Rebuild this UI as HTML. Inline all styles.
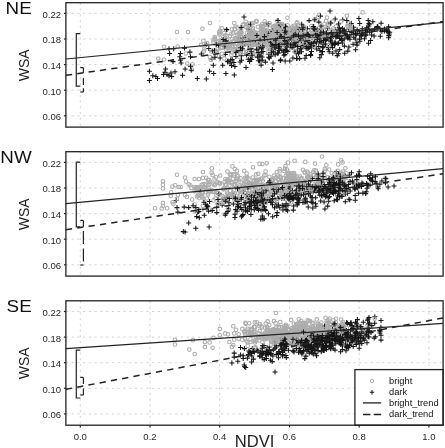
<!DOCTYPE html>
<html><head><meta charset="utf-8"><title>WSA vs NDVI</title>
<style>html,body{margin:0;padding:0;background:#fff;overflow:hidden}svg{display:block}svg text{font-family:"Liberation Sans",Arial,sans-serif}</style>
</head><body>
<svg width="445" height="448" viewBox="0 0 445 448">
<rect width="445" height="448" fill="#fff"/>
<path d="M65.9 13.4H443.1M65.9 39.0H443.1M65.9 64.6H443.1M65.9 90.2H443.1M65.9 115.8H443.1M80.3 2.7V127.1M150.0 2.7V127.1M219.7 2.7V127.1M289.5 2.7V127.1M359.2 2.7V127.1M428.9 2.7V127.1" stroke="#cfcfcf" stroke-width="0.95" stroke-dasharray="2.1 3.65" fill="none"/>
<g fill="none" stroke="#acacac" stroke-width="1.05"><circle cx="249.1" cy="48.7" r="1.8"/><circle cx="253.5" cy="43.1" r="1.8"/><circle cx="280.2" cy="42.4" r="1.8"/><circle cx="209.8" cy="57.0" r="1.8"/><circle cx="309.6" cy="35.4" r="1.8"/><circle cx="251.0" cy="38.0" r="1.8"/><circle cx="347.8" cy="26.6" r="1.8"/><circle cx="270.8" cy="37.2" r="1.8"/><circle cx="290.3" cy="36.0" r="1.8"/><circle cx="311.3" cy="30.0" r="1.8"/><circle cx="322.3" cy="44.6" r="1.8"/><circle cx="311.3" cy="26.1" r="1.8"/><circle cx="232.0" cy="29.3" r="1.8"/><circle cx="247.0" cy="36.5" r="1.8"/><circle cx="299.1" cy="47.1" r="1.8"/><circle cx="308.1" cy="35.8" r="1.8"/><circle cx="253.2" cy="36.3" r="1.8"/><circle cx="322.6" cy="27.8" r="1.8"/><circle cx="284.6" cy="31.1" r="1.8"/><circle cx="291.6" cy="27.7" r="1.8"/><circle cx="245.1" cy="43.1" r="1.8"/><circle cx="252.7" cy="50.5" r="1.8"/><circle cx="319.9" cy="31.3" r="1.8"/><circle cx="231.4" cy="33.7" r="1.8"/><circle cx="362.6" cy="12.3" r="1.8"/><circle cx="277.7" cy="38.9" r="1.8"/><circle cx="211.3" cy="51.5" r="1.8"/><circle cx="256.4" cy="36.3" r="1.8"/><circle cx="247.6" cy="40.9" r="1.8"/><circle cx="256.5" cy="37.8" r="1.8"/><circle cx="261.4" cy="26.9" r="1.8"/><circle cx="300.6" cy="33.9" r="1.8"/><circle cx="270.5" cy="40.2" r="1.8"/><circle cx="240.6" cy="45.4" r="1.8"/><circle cx="274.7" cy="40.0" r="1.8"/><circle cx="262.9" cy="29.7" r="1.8"/><circle cx="265.3" cy="24.3" r="1.8"/><circle cx="261.6" cy="54.8" r="1.8"/><circle cx="240.7" cy="53.6" r="1.8"/><circle cx="251.1" cy="54.9" r="1.8"/><circle cx="249.5" cy="41.1" r="1.8"/><circle cx="289.7" cy="29.3" r="1.8"/><circle cx="259.7" cy="35.7" r="1.8"/><circle cx="263.8" cy="31.7" r="1.8"/><circle cx="239.4" cy="56.9" r="1.8"/><circle cx="258.7" cy="32.9" r="1.8"/><circle cx="261.2" cy="44.5" r="1.8"/><circle cx="235.7" cy="50.1" r="1.8"/><circle cx="304.8" cy="37.5" r="1.8"/><circle cx="272.9" cy="27.1" r="1.8"/><circle cx="243.7" cy="51.7" r="1.8"/><circle cx="283.0" cy="36.3" r="1.8"/><circle cx="262.1" cy="40.3" r="1.8"/><circle cx="203.9" cy="44.2" r="1.8"/><circle cx="257.4" cy="35.9" r="1.8"/><circle cx="250.1" cy="41.4" r="1.8"/><circle cx="275.4" cy="25.6" r="1.8"/><circle cx="287.6" cy="25.2" r="1.8"/><circle cx="278.9" cy="48.6" r="1.8"/><circle cx="314.9" cy="35.3" r="1.8"/><circle cx="295.3" cy="36.8" r="1.8"/><circle cx="203.4" cy="40.7" r="1.8"/><circle cx="289.8" cy="29.4" r="1.8"/><circle cx="250.1" cy="49.0" r="1.8"/><circle cx="251.3" cy="44.7" r="1.8"/><circle cx="304.7" cy="36.6" r="1.8"/><circle cx="238.7" cy="33.6" r="1.8"/><circle cx="251.7" cy="34.4" r="1.8"/><circle cx="283.2" cy="30.3" r="1.8"/><circle cx="324.5" cy="23.7" r="1.8"/><circle cx="279.2" cy="28.3" r="1.8"/><circle cx="262.2" cy="30.7" r="1.8"/><circle cx="251.1" cy="36.4" r="1.8"/><circle cx="269.7" cy="28.3" r="1.8"/><circle cx="245.3" cy="37.1" r="1.8"/><circle cx="232.6" cy="46.9" r="1.8"/><circle cx="297.9" cy="41.4" r="1.8"/><circle cx="308.7" cy="36.3" r="1.8"/><circle cx="284.8" cy="41.1" r="1.8"/><circle cx="246.9" cy="24.2" r="1.8"/><circle cx="251.4" cy="39.6" r="1.8"/><circle cx="294.1" cy="42.3" r="1.8"/><circle cx="309.8" cy="47.2" r="1.8"/><circle cx="221.8" cy="28.3" r="1.8"/><circle cx="234.8" cy="49.0" r="1.8"/><circle cx="306.3" cy="39.0" r="1.8"/><circle cx="297.8" cy="37.0" r="1.8"/><circle cx="177.0" cy="32.0" r="1.8"/><circle cx="185.8" cy="53.5" r="1.8"/></g>
<path d="M332.7 19.0h5M335.2 16.5v5M266.9 57.9h5M269.4 55.4v5M246.0 39.7h5M248.5 37.2v5M248.2 40.5h5M250.7 38.0v5M238.1 42.8h5M240.6 40.3v5M320.3 47.8h5M322.8 45.3v5M276.4 42.7h5M278.9 40.2v5M316.0 37.6h5M318.5 35.1v5M326.7 51.8h5M329.2 49.3v5M382.0 29.0h5M384.5 26.5v5M277.0 45.0h5M279.5 42.5v5M246.9 33.3h5M249.4 30.8v5M311.9 41.7h5M314.4 39.2v5M303.9 33.3h5M306.4 30.8v5M259.1 51.9h5M261.6 49.4v5M346.2 29.0h5M348.7 26.5v5M336.5 32.5h5M339.0 30.0v5M273.2 48.0h5M275.7 45.5v5M379.4 31.5h5M381.9 29.0v5M283.2 27.4h5M285.7 24.9v5M357.4 41.2h5M359.9 38.7v5M303.5 38.1h5M306.0 35.6v5M232.4 66.5h5M234.9 64.0v5M310.8 26.7h5M313.3 24.2v5M220.2 65.2h5M222.7 62.7v5M274.9 53.2h5M277.4 50.7v5M330.0 33.0h5M332.5 30.5v5M281.6 43.2h5M284.1 40.7v5M247.7 34.5h5M250.2 32.0v5M358.9 36.0h5M361.4 33.5v5M293.8 27.8h5M296.3 25.3v5M325.4 36.3h5M327.9 33.8v5M228.2 59.9h5M230.7 57.4v5M310.0 37.6h5M312.5 35.1v5M333.4 35.0h5M335.9 32.5v5M345.2 37.8h5M347.7 35.3v5M357.1 39.1h5M359.6 36.6v5M308.2 55.5h5M310.7 53.0v5M270.5 63.0h5M273.0 60.5v5M242.4 37.5h5M244.9 35.0v5M291.2 46.3h5M293.7 43.8v5M281.4 55.2h5M283.9 52.7v5M353.6 34.7h5M356.1 32.2v5M210.8 65.2h5M213.3 62.7v5M338.0 38.3h5M340.5 35.8v5M274.4 45.2h5M276.9 42.7v5M330.2 36.5h5M332.7 34.0v5M289.1 45.7h5M291.6 43.2v5M311.2 43.1h5M313.7 40.6v5M277.9 36.8h5M280.4 34.3v5M203.9 44.5h5M206.4 42.0v5M307.0 42.9h5M309.5 40.4v5M297.5 29.8h5M300.0 27.3v5M363.6 34.9h5M366.1 32.4v5M386.1 26.8h5M388.6 24.3v5M332.8 29.8h5M335.3 27.3v5M310.8 46.7h5M313.3 44.2v5M287.3 61.0h5M289.8 58.5v5M365.4 28.2h5M367.9 25.7v5M336.9 32.6h5M339.4 30.1v5M329.1 37.8h5M331.6 35.3v5M348.8 23.4h5M351.3 20.9v5M245.8 59.3h5M248.3 56.8v5M276.9 39.1h5M279.4 36.6v5M367.2 32.1h5M369.7 29.6v5M292.9 29.5h5M295.4 27.0v5M357.2 23.4h5M359.7 20.9v5M340.2 19.8h5M342.7 17.3v5M293.1 32.1h5M295.6 29.6v5M297.9 35.9h5M300.4 33.4v5M274.1 30.2h5M276.6 27.7v5M352.8 38.9h5M355.3 36.4v5M146.9 71.3h5M149.4 68.8v5M162.4 72.3h5M164.9 69.8v5M172.5 71.7h5M175.0 69.2v5M167.1 53.5h5M169.6 51.0v5M177.9 60.2h5M180.4 57.7v5" stroke="#151515" stroke-width="1.05" fill="none"/>
<g fill="none" stroke="#acacac" stroke-width="1.05"><circle cx="298.7" cy="33.7" r="1.8"/><circle cx="302.2" cy="33.2" r="1.8"/><circle cx="290.9" cy="38.7" r="1.8"/><circle cx="238.9" cy="36.8" r="1.8"/><circle cx="301.9" cy="37.0" r="1.8"/><circle cx="221.9" cy="41.8" r="1.8"/><circle cx="335.8" cy="26.5" r="1.8"/><circle cx="289.1" cy="36.6" r="1.8"/><circle cx="319.6" cy="39.1" r="1.8"/><circle cx="297.7" cy="30.5" r="1.8"/><circle cx="286.4" cy="37.5" r="1.8"/><circle cx="264.8" cy="30.9" r="1.8"/><circle cx="231.3" cy="54.8" r="1.8"/><circle cx="245.9" cy="37.7" r="1.8"/><circle cx="273.6" cy="27.6" r="1.8"/><circle cx="273.6" cy="26.4" r="1.8"/><circle cx="213.4" cy="42.3" r="1.8"/><circle cx="264.7" cy="21.3" r="1.8"/><circle cx="255.2" cy="32.3" r="1.8"/><circle cx="296.8" cy="40.1" r="1.8"/><circle cx="319.0" cy="14.7" r="1.8"/><circle cx="310.1" cy="32.9" r="1.8"/><circle cx="276.7" cy="29.8" r="1.8"/><circle cx="256.5" cy="35.4" r="1.8"/><circle cx="252.9" cy="38.9" r="1.8"/><circle cx="241.4" cy="41.2" r="1.8"/><circle cx="225.3" cy="35.2" r="1.8"/><circle cx="263.2" cy="31.9" r="1.8"/><circle cx="272.7" cy="33.1" r="1.8"/><circle cx="219.3" cy="34.6" r="1.8"/><circle cx="272.2" cy="33.7" r="1.8"/><circle cx="220.6" cy="48.1" r="1.8"/><circle cx="324.2" cy="40.5" r="1.8"/><circle cx="254.0" cy="44.8" r="1.8"/><circle cx="316.3" cy="31.3" r="1.8"/><circle cx="251.8" cy="23.5" r="1.8"/><circle cx="232.4" cy="46.9" r="1.8"/><circle cx="234.6" cy="28.9" r="1.8"/><circle cx="285.3" cy="42.3" r="1.8"/><circle cx="257.8" cy="26.7" r="1.8"/><circle cx="270.3" cy="41.1" r="1.8"/><circle cx="289.5" cy="32.0" r="1.8"/><circle cx="260.9" cy="46.7" r="1.8"/><circle cx="243.6" cy="24.3" r="1.8"/><circle cx="217.6" cy="42.4" r="1.8"/><circle cx="262.5" cy="38.8" r="1.8"/><circle cx="239.1" cy="43.8" r="1.8"/><circle cx="287.6" cy="31.7" r="1.8"/><circle cx="258.9" cy="39.6" r="1.8"/><circle cx="248.8" cy="23.5" r="1.8"/><circle cx="248.1" cy="36.4" r="1.8"/><circle cx="240.4" cy="50.8" r="1.8"/><circle cx="268.9" cy="34.0" r="1.8"/><circle cx="260.7" cy="38.0" r="1.8"/><circle cx="287.0" cy="36.5" r="1.8"/><circle cx="295.3" cy="30.5" r="1.8"/><circle cx="214.9" cy="39.0" r="1.8"/><circle cx="280.1" cy="46.1" r="1.8"/><circle cx="332.9" cy="21.5" r="1.8"/><circle cx="366.1" cy="30.0" r="1.8"/><circle cx="204.2" cy="48.7" r="1.8"/><circle cx="229.3" cy="46.4" r="1.8"/><circle cx="261.0" cy="25.8" r="1.8"/><circle cx="227.4" cy="44.3" r="1.8"/><circle cx="277.4" cy="20.9" r="1.8"/><circle cx="261.3" cy="43.1" r="1.8"/><circle cx="275.6" cy="44.8" r="1.8"/><circle cx="304.9" cy="37.1" r="1.8"/><circle cx="252.6" cy="29.4" r="1.8"/><circle cx="297.9" cy="28.4" r="1.8"/><circle cx="303.1" cy="26.2" r="1.8"/><circle cx="247.9" cy="28.8" r="1.8"/><circle cx="330.9" cy="35.9" r="1.8"/><circle cx="305.7" cy="42.7" r="1.8"/><circle cx="272.4" cy="39.6" r="1.8"/><circle cx="258.0" cy="48.7" r="1.8"/><circle cx="287.6" cy="35.8" r="1.8"/><circle cx="273.0" cy="53.7" r="1.8"/><circle cx="268.7" cy="38.7" r="1.8"/><circle cx="252.8" cy="28.1" r="1.8"/><circle cx="340.9" cy="21.4" r="1.8"/><circle cx="285.5" cy="33.8" r="1.8"/><circle cx="244.5" cy="39.8" r="1.8"/><circle cx="215.7" cy="55.8" r="1.8"/><circle cx="241.4" cy="33.7" r="1.8"/><circle cx="222.7" cy="44.1" r="1.8"/><circle cx="287.5" cy="33.9" r="1.8"/><circle cx="188.0" cy="32.0" r="1.8"/><circle cx="187.2" cy="63.6" r="1.8"/></g>
<path d="M298.2 48.3h5M300.7 45.8v5M256.2 44.4h5M258.7 41.9v5M288.4 30.9h5M290.9 28.4v5M305.7 34.6h5M308.2 32.1v5M293.8 53.4h5M296.3 50.9v5M313.3 30.9h5M315.8 28.4v5M264.2 41.8h5M266.7 39.3v5M312.9 33.7h5M315.4 31.2v5M210.2 50.9h5M212.7 48.4v5M336.0 24.0h5M338.5 21.5v5M303.7 48.3h5M306.2 45.8v5M302.3 43.2h5M304.8 40.7v5M294.2 58.5h5M296.7 56.0v5M344.5 34.7h5M347.0 32.2v5M280.2 42.2h5M282.7 39.7v5M276.1 47.3h5M278.6 44.8v5M276.5 48.1h5M279.0 45.6v5M366.3 26.0h5M368.8 23.5v5M356.4 18.5h5M358.9 16.0v5M302.5 58.2h5M305.0 55.7v5M325.6 35.2h5M328.1 32.7v5M270.2 30.9h5M272.7 28.4v5M263.2 41.5h5M265.7 39.0v5M354.6 29.8h5M357.1 27.3v5M314.2 48.9h5M316.7 46.4v5M308.4 44.8h5M310.9 42.3v5M361.9 38.8h5M364.4 36.3v5M330.1 47.6h5M332.6 45.1v5M325.3 34.8h5M327.8 32.3v5M308.3 36.8h5M310.8 34.3v5M284.1 36.3h5M286.6 33.8v5M243.1 42.0h5M245.6 39.5v5M289.0 40.1h5M291.5 37.6v5M384.9 31.1h5M387.4 28.6v5M297.1 58.6h5M299.6 56.1v5M342.8 33.7h5M345.3 31.2v5M354.7 33.6h5M357.2 31.1v5M339.8 42.9h5M342.3 40.4v5M217.6 57.9h5M220.1 55.4v5M347.3 24.8h5M349.8 22.3v5M276.9 50.5h5M279.4 48.0v5M351.4 29.9h5M353.9 27.4v5M329.7 44.5h5M332.2 42.0v5M309.0 51.4h5M311.5 48.9v5M370.3 21.8h5M372.8 19.3v5M302.2 44.1h5M304.7 41.6v5M321.3 44.1h5M323.8 41.6v5M245.0 53.6h5M247.5 51.1v5M281.0 30.3h5M283.5 27.8v5M278.6 40.9h5M281.1 38.4v5M359.6 34.2h5M362.1 31.7v5M285.4 35.4h5M287.9 32.9v5M258.6 65.1h5M261.1 62.6v5M255.2 49.9h5M257.7 47.4v5M360.4 32.9h5M362.9 30.4v5M267.0 32.0h5M269.5 29.5v5M305.9 47.8h5M308.4 45.3v5M341.8 38.9h5M344.3 36.4v5M209.6 58.9h5M212.1 56.4v5M264.8 36.8h5M267.3 34.3v5M344.9 36.1h5M347.4 33.6v5M265.8 40.0h5M268.3 37.5v5M296.5 39.8h5M299.0 37.3v5M317.9 16.1h5M320.4 13.6v5M227.6 63.0h5M230.1 60.5v5M308.1 43.6h5M310.6 41.1v5M300.6 45.6h5M303.1 43.1v5M326.0 47.4h5M328.5 44.9v5M321.0 40.4h5M323.5 37.9v5M290.2 29.6h5M292.7 27.1v5M363.0 30.7h5M365.5 28.2v5M292.8 33.6h5M295.3 31.1v5M146.9 80.4h5M149.4 77.9v5M163.1 69.0h5M165.6 66.5v5M180.0 75.3h5M182.5 72.8v5M166.5 48.8h5M169.0 46.3v5M178.6 62.9h5M181.1 60.4v5" stroke="#151515" stroke-width="1.05" fill="none"/>
<g fill="none" stroke="#acacac" stroke-width="1.05"><circle cx="312.6" cy="37.0" r="1.8"/><circle cx="279.0" cy="35.7" r="1.8"/><circle cx="253.4" cy="43.0" r="1.8"/><circle cx="244.0" cy="43.1" r="1.8"/><circle cx="262.0" cy="36.0" r="1.8"/><circle cx="225.9" cy="49.6" r="1.8"/><circle cx="325.2" cy="44.8" r="1.8"/><circle cx="243.9" cy="45.0" r="1.8"/><circle cx="277.5" cy="25.3" r="1.8"/><circle cx="291.4" cy="38.5" r="1.8"/><circle cx="282.2" cy="31.1" r="1.8"/><circle cx="283.9" cy="37.6" r="1.8"/><circle cx="305.5" cy="39.8" r="1.8"/><circle cx="222.0" cy="47.7" r="1.8"/><circle cx="261.8" cy="39.6" r="1.8"/><circle cx="294.0" cy="39.2" r="1.8"/><circle cx="271.1" cy="35.3" r="1.8"/><circle cx="333.0" cy="28.5" r="1.8"/><circle cx="253.1" cy="31.4" r="1.8"/><circle cx="328.3" cy="34.3" r="1.8"/><circle cx="295.3" cy="48.3" r="1.8"/><circle cx="280.5" cy="29.4" r="1.8"/><circle cx="293.4" cy="46.1" r="1.8"/><circle cx="327.0" cy="17.5" r="1.8"/><circle cx="262.6" cy="38.1" r="1.8"/><circle cx="280.6" cy="29.7" r="1.8"/><circle cx="257.8" cy="38.4" r="1.8"/><circle cx="310.8" cy="46.5" r="1.8"/><circle cx="257.0" cy="40.5" r="1.8"/><circle cx="266.3" cy="44.3" r="1.8"/><circle cx="246.8" cy="33.2" r="1.8"/><circle cx="236.5" cy="32.2" r="1.8"/><circle cx="271.8" cy="45.4" r="1.8"/><circle cx="263.5" cy="47.5" r="1.8"/><circle cx="288.2" cy="37.2" r="1.8"/><circle cx="228.0" cy="48.2" r="1.8"/><circle cx="321.0" cy="29.0" r="1.8"/><circle cx="333.4" cy="31.0" r="1.8"/><circle cx="253.2" cy="55.6" r="1.8"/><circle cx="223.2" cy="37.3" r="1.8"/><circle cx="267.9" cy="41.6" r="1.8"/><circle cx="288.1" cy="49.0" r="1.8"/><circle cx="296.6" cy="36.1" r="1.8"/><circle cx="288.4" cy="36.2" r="1.8"/><circle cx="236.0" cy="39.1" r="1.8"/><circle cx="306.5" cy="36.7" r="1.8"/><circle cx="262.0" cy="43.8" r="1.8"/><circle cx="268.7" cy="38.2" r="1.8"/><circle cx="277.5" cy="32.6" r="1.8"/><circle cx="229.8" cy="36.0" r="1.8"/><circle cx="263.6" cy="41.8" r="1.8"/><circle cx="275.0" cy="42.6" r="1.8"/><circle cx="262.0" cy="24.3" r="1.8"/><circle cx="296.7" cy="37.1" r="1.8"/><circle cx="287.7" cy="41.2" r="1.8"/><circle cx="279.0" cy="46.7" r="1.8"/><circle cx="250.9" cy="31.8" r="1.8"/><circle cx="295.0" cy="29.6" r="1.8"/><circle cx="253.2" cy="37.0" r="1.8"/><circle cx="255.6" cy="33.3" r="1.8"/><circle cx="268.3" cy="33.3" r="1.8"/><circle cx="256.6" cy="21.7" r="1.8"/><circle cx="300.0" cy="38.5" r="1.8"/><circle cx="220.0" cy="33.5" r="1.8"/><circle cx="213.4" cy="40.2" r="1.8"/><circle cx="203.6" cy="51.4" r="1.8"/><circle cx="234.3" cy="23.1" r="1.8"/><circle cx="218.5" cy="41.0" r="1.8"/><circle cx="321.6" cy="31.9" r="1.8"/><circle cx="240.6" cy="32.0" r="1.8"/><circle cx="266.3" cy="38.2" r="1.8"/><circle cx="352.0" cy="26.6" r="1.8"/><circle cx="239.2" cy="47.2" r="1.8"/><circle cx="256.1" cy="36.7" r="1.8"/><circle cx="240.7" cy="42.7" r="1.8"/><circle cx="263.4" cy="29.5" r="1.8"/><circle cx="280.1" cy="51.6" r="1.8"/><circle cx="247.5" cy="26.4" r="1.8"/><circle cx="263.8" cy="41.6" r="1.8"/><circle cx="249.4" cy="30.2" r="1.8"/><circle cx="328.4" cy="25.6" r="1.8"/><circle cx="235.6" cy="26.5" r="1.8"/><circle cx="215.7" cy="50.7" r="1.8"/><circle cx="204.2" cy="50.7" r="1.8"/><circle cx="277.7" cy="37.7" r="1.8"/><circle cx="281.5" cy="36.3" r="1.8"/><circle cx="287.9" cy="41.0" r="1.8"/><circle cx="164.0" cy="46.7" r="1.8"/><circle cx="192.6" cy="64.3" r="1.8"/></g>
<path d="M207.1 71.3h5M209.6 68.8v5M303.2 41.2h5M305.7 38.7v5M320.4 47.1h5M322.9 44.6v5M314.0 43.0h5M316.5 40.5v5M303.7 55.4h5M306.2 52.9v5M299.2 24.2h5M301.7 21.7v5M256.5 54.9h5M259.0 52.4v5M304.9 28.7h5M307.4 26.2v5M271.0 51.8h5M273.5 49.3v5M294.4 58.6h5M296.9 56.1v5M231.3 62.4h5M233.8 59.9v5M239.0 60.3h5M241.5 57.8v5M325.1 28.3h5M327.6 25.8v5M240.4 45.3h5M242.9 42.8v5M345.5 38.1h5M348.0 35.6v5M272.6 54.7h5M275.1 52.2v5M368.1 40.4h5M370.6 37.9v5M296.8 52.1h5M299.3 49.6v5M366.4 23.5h5M368.9 21.0v5M386.7 33.9h5M389.2 31.4v5M300.0 39.3h5M302.5 36.8v5M248.9 31.8h5M251.4 29.3v5M275.9 44.8h5M278.4 42.3v5M289.4 39.7h5M291.9 37.2v5M269.3 49.6h5M271.8 47.1v5M279.5 50.3h5M282.0 47.8v5M335.5 43.5h5M338.0 41.0v5M328.8 38.2h5M331.3 35.7v5M333.5 50.9h5M336.0 48.4v5M309.0 44.4h5M311.5 41.9v5M375.0 27.1h5M377.5 24.6v5M280.9 52.3h5M283.4 49.8v5M250.7 40.5h5M253.2 38.0v5M203.8 78.9h5M206.3 76.4v5M332.4 44.1h5M334.9 41.6v5M314.5 34.5h5M317.0 32.0v5M229.7 59.4h5M232.2 56.9v5M385.5 31.7h5M388.0 29.2v5M354.3 42.8h5M356.8 40.3v5M320.5 46.8h5M323.0 44.3v5M257.6 40.2h5M260.1 37.7v5M212.5 57.3h5M215.0 54.8v5M286.3 45.3h5M288.8 42.8v5M308.1 54.6h5M310.6 52.1v5M313.5 29.5h5M316.0 27.0v5M236.2 39.0h5M238.7 36.5v5M299.0 51.7h5M301.5 49.2v5M278.3 34.9h5M280.8 32.4v5M247.9 59.0h5M250.4 56.5v5M237.6 61.9h5M240.1 59.4v5M248.2 24.3h5M250.7 21.8v5M353.0 33.4h5M355.5 30.9v5M336.9 27.7h5M339.4 25.2v5M256.6 45.6h5M259.1 43.1v5M295.9 53.7h5M298.4 51.2v5M341.8 33.2h5M344.3 30.7v5M292.4 43.1h5M294.9 40.6v5M351.0 27.3h5M353.5 24.8v5M238.0 47.8h5M240.5 45.3v5M310.6 45.4h5M313.1 42.9v5M223.4 73.4h5M225.9 70.9v5M285.0 41.8h5M287.5 39.3v5M351.3 37.3h5M353.8 34.8v5M276.0 37.6h5M278.5 35.1v5M267.8 49.1h5M270.3 46.6v5M262.9 62.1h5M265.4 59.6v5M238.9 55.7h5M241.4 53.2v5M339.9 28.5h5M342.4 26.0v5M347.4 39.2h5M349.9 36.7v5M261.3 40.6h5M263.8 38.1v5M322.9 44.0h5M325.4 41.5v5M285.3 51.5h5M287.8 49.0v5M150.3 75.7h5M152.8 73.2v5M164.5 74.4h5M167.0 71.9v5M182.6 69.0h5M185.1 66.5v5M171.2 48.8h5M173.7 46.3v5M182.0 48.1h5M184.5 45.6v5" stroke="#151515" stroke-width="1.05" fill="none"/>
<g fill="none" stroke="#acacac" stroke-width="1.05"><circle cx="347.4" cy="25.7" r="1.8"/><circle cx="255.8" cy="51.7" r="1.8"/><circle cx="271.4" cy="39.6" r="1.8"/><circle cx="301.9" cy="41.9" r="1.8"/><circle cx="292.3" cy="30.4" r="1.8"/><circle cx="221.2" cy="40.1" r="1.8"/><circle cx="247.6" cy="42.2" r="1.8"/><circle cx="280.3" cy="23.7" r="1.8"/><circle cx="225.2" cy="45.9" r="1.8"/><circle cx="297.4" cy="28.5" r="1.8"/><circle cx="241.0" cy="29.8" r="1.8"/><circle cx="268.2" cy="44.9" r="1.8"/><circle cx="241.0" cy="32.5" r="1.8"/><circle cx="240.5" cy="53.1" r="1.8"/><circle cx="274.2" cy="37.0" r="1.8"/><circle cx="276.9" cy="33.9" r="1.8"/><circle cx="289.9" cy="34.0" r="1.8"/><circle cx="305.8" cy="38.3" r="1.8"/><circle cx="256.3" cy="20.8" r="1.8"/><circle cx="249.0" cy="35.3" r="1.8"/><circle cx="235.3" cy="38.1" r="1.8"/><circle cx="255.0" cy="38.9" r="1.8"/><circle cx="224.3" cy="33.1" r="1.8"/><circle cx="249.2" cy="46.1" r="1.8"/><circle cx="224.8" cy="47.3" r="1.8"/><circle cx="275.2" cy="32.9" r="1.8"/><circle cx="253.4" cy="37.0" r="1.8"/><circle cx="323.6" cy="35.7" r="1.8"/><circle cx="251.7" cy="49.9" r="1.8"/><circle cx="291.1" cy="31.6" r="1.8"/><circle cx="241.9" cy="44.1" r="1.8"/><circle cx="223.5" cy="42.8" r="1.8"/><circle cx="237.8" cy="39.4" r="1.8"/><circle cx="263.0" cy="31.1" r="1.8"/><circle cx="322.7" cy="34.1" r="1.8"/><circle cx="276.7" cy="30.0" r="1.8"/><circle cx="277.7" cy="31.3" r="1.8"/><circle cx="279.6" cy="25.6" r="1.8"/><circle cx="256.3" cy="55.3" r="1.8"/><circle cx="266.5" cy="24.9" r="1.8"/><circle cx="219.8" cy="44.0" r="1.8"/><circle cx="297.1" cy="34.4" r="1.8"/><circle cx="265.0" cy="29.8" r="1.8"/><circle cx="271.0" cy="31.3" r="1.8"/><circle cx="280.3" cy="28.5" r="1.8"/><circle cx="237.4" cy="34.9" r="1.8"/><circle cx="261.4" cy="27.9" r="1.8"/><circle cx="229.7" cy="43.5" r="1.8"/><circle cx="330.0" cy="23.2" r="1.8"/><circle cx="242.9" cy="25.1" r="1.8"/><circle cx="240.2" cy="41.6" r="1.8"/><circle cx="302.1" cy="29.9" r="1.8"/><circle cx="240.9" cy="32.1" r="1.8"/><circle cx="335.4" cy="34.8" r="1.8"/><circle cx="236.4" cy="43.4" r="1.8"/><circle cx="334.5" cy="33.1" r="1.8"/><circle cx="278.4" cy="26.1" r="1.8"/><circle cx="253.3" cy="23.0" r="1.8"/><circle cx="291.2" cy="44.6" r="1.8"/><circle cx="236.5" cy="39.5" r="1.8"/><circle cx="237.6" cy="27.5" r="1.8"/><circle cx="274.7" cy="38.2" r="1.8"/><circle cx="245.7" cy="21.8" r="1.8"/><circle cx="262.7" cy="26.2" r="1.8"/><circle cx="287.8" cy="43.3" r="1.8"/><circle cx="288.9" cy="48.9" r="1.8"/><circle cx="280.2" cy="28.4" r="1.8"/><circle cx="262.2" cy="42.7" r="1.8"/><circle cx="282.0" cy="38.0" r="1.8"/><circle cx="239.4" cy="41.1" r="1.8"/><circle cx="299.1" cy="32.9" r="1.8"/><circle cx="293.2" cy="33.2" r="1.8"/><circle cx="284.1" cy="35.9" r="1.8"/><circle cx="274.0" cy="42.2" r="1.8"/><circle cx="294.6" cy="40.6" r="1.8"/><circle cx="284.4" cy="45.2" r="1.8"/><circle cx="246.0" cy="27.0" r="1.8"/><circle cx="348.6" cy="23.1" r="1.8"/><circle cx="287.5" cy="46.1" r="1.8"/><circle cx="249.1" cy="38.8" r="1.8"/><circle cx="210.7" cy="59.7" r="1.8"/><circle cx="215.4" cy="51.5" r="1.8"/><circle cx="236.8" cy="42.9" r="1.8"/><circle cx="255.8" cy="44.0" r="1.8"/><circle cx="267.0" cy="32.9" r="1.8"/><circle cx="250.0" cy="41.8" r="1.8"/><circle cx="241.4" cy="39.8" r="1.8"/><circle cx="158.2" cy="58.6" r="1.8"/><circle cx="191.9" cy="69.6" r="1.8"/></g>
<path d="M277.9 60.6h5M280.4 58.1v5M212.0 50.4h5M214.5 47.9v5M282.6 44.9h5M285.1 42.4v5M249.2 59.5h5M251.7 57.0v5M356.9 31.7h5M359.4 29.2v5M283.0 41.2h5M285.5 38.7v5M290.4 57.9h5M292.9 55.4v5M294.9 51.3h5M297.4 48.8v5M315.5 35.7h5M318.0 33.2v5M282.7 46.0h5M285.2 43.5v5M317.3 50.4h5M319.8 47.9v5M281.6 38.2h5M284.1 35.7v5M350.6 44.3h5M353.1 41.8v5M244.0 55.1h5M246.5 52.6v5M327.9 43.3h5M330.4 40.8v5M282.5 49.6h5M285.0 47.1v5M377.8 36.3h5M380.3 33.8v5M272.0 41.5h5M274.5 39.0v5M266.1 57.2h5M268.6 54.7v5M305.3 48.6h5M307.8 46.1v5M246.0 44.7h5M248.5 42.2v5M268.5 56.3h5M271.0 53.8v5M295.3 46.5h5M297.8 44.0v5M375.4 26.9h5M377.9 24.4v5M278.2 59.7h5M280.7 57.2v5M302.5 36.3h5M305.0 33.8v5M312.7 35.7h5M315.2 33.2v5M248.7 51.8h5M251.2 49.3v5M211.2 73.5h5M213.7 71.0v5M263.3 33.2h5M265.8 30.7v5M336.1 42.9h5M338.6 40.4v5M246.4 29.3h5M248.9 26.8v5M304.1 46.6h5M306.6 44.1v5M261.4 36.3h5M263.9 33.8v5M328.8 44.0h5M331.3 41.5v5M332.6 43.3h5M335.1 40.8v5M252.9 40.2h5M255.4 37.7v5M337.2 49.6h5M339.7 47.1v5M292.9 45.2h5M295.4 42.7v5M365.7 20.5h5M368.2 18.0v5M329.9 45.1h5M332.4 42.6v5M321.6 37.9h5M324.1 35.4v5M225.5 61.1h5M228.0 58.6v5M266.2 54.2h5M268.7 51.7v5M354.5 45.1h5M357.0 42.6v5M342.2 53.2h5M344.7 50.7v5M339.5 40.6h5M342.0 38.1v5M278.3 48.5h5M280.8 46.0v5M371.6 36.0h5M374.1 33.5v5M249.5 55.3h5M252.0 52.8v5M366.1 43.3h5M368.6 40.8v5M364.2 27.7h5M366.7 25.2v5M255.0 57.1h5M257.5 54.6v5M272.5 45.0h5M275.0 42.5v5M282.2 30.2h5M284.7 27.7v5M337.9 37.1h5M340.4 34.6v5M315.0 29.2h5M317.5 26.7v5M259.7 60.1h5M262.2 57.6v5M387.2 32.2h5M389.7 29.7v5M222.8 54.5h5M225.3 52.0v5M318.3 32.2h5M320.8 29.7v5M349.3 32.6h5M351.8 30.1v5M216.0 45.5h5M218.5 43.0v5M334.7 55.6h5M337.2 53.1v5M309.5 37.5h5M312.0 35.0v5M282.4 54.6h5M284.9 52.1v5M316.3 46.5h5M318.8 44.0v5M386.1 37.7h5M388.6 35.2v5M222.4 46.2h5M224.9 43.7v5M341.6 29.9h5M344.1 27.4v5M333.4 36.7h5M335.9 34.2v5M328.8 38.2h5M331.3 35.7v5M153.4 76.4h5M155.9 73.9v5M166.5 75.7h5M169.0 73.2v5M188.0 66.3h5M190.5 63.8v5M170.5 61.6h5M173.0 59.1v5M187.4 52.1h5M189.9 49.6v5" stroke="#151515" stroke-width="1.05" fill="none"/>
<g fill="none" stroke="#acacac" stroke-width="1.05"><circle cx="314.6" cy="19.5" r="1.8"/><circle cx="282.5" cy="47.1" r="1.8"/><circle cx="274.8" cy="40.5" r="1.8"/><circle cx="277.2" cy="40.7" r="1.8"/><circle cx="255.3" cy="41.4" r="1.8"/><circle cx="257.5" cy="36.0" r="1.8"/><circle cx="275.7" cy="26.9" r="1.8"/><circle cx="273.9" cy="46.5" r="1.8"/><circle cx="224.2" cy="58.4" r="1.8"/><circle cx="303.9" cy="27.0" r="1.8"/><circle cx="242.3" cy="42.9" r="1.8"/><circle cx="347.7" cy="30.1" r="1.8"/><circle cx="333.8" cy="39.4" r="1.8"/><circle cx="281.0" cy="40.2" r="1.8"/><circle cx="284.6" cy="44.3" r="1.8"/><circle cx="273.5" cy="33.6" r="1.8"/><circle cx="316.7" cy="29.2" r="1.8"/><circle cx="220.2" cy="30.6" r="1.8"/><circle cx="264.2" cy="44.2" r="1.8"/><circle cx="255.7" cy="35.6" r="1.8"/><circle cx="258.6" cy="47.1" r="1.8"/><circle cx="273.9" cy="45.0" r="1.8"/><circle cx="226.3" cy="30.0" r="1.8"/><circle cx="231.8" cy="39.2" r="1.8"/><circle cx="258.4" cy="48.9" r="1.8"/><circle cx="289.8" cy="35.5" r="1.8"/><circle cx="296.8" cy="23.1" r="1.8"/><circle cx="230.0" cy="48.3" r="1.8"/><circle cx="300.9" cy="35.3" r="1.8"/><circle cx="305.0" cy="34.4" r="1.8"/><circle cx="217.1" cy="51.2" r="1.8"/><circle cx="292.0" cy="29.0" r="1.8"/><circle cx="251.5" cy="31.6" r="1.8"/><circle cx="286.9" cy="38.5" r="1.8"/><circle cx="255.6" cy="34.2" r="1.8"/><circle cx="327.3" cy="29.4" r="1.8"/><circle cx="231.3" cy="42.4" r="1.8"/><circle cx="266.5" cy="30.4" r="1.8"/><circle cx="246.1" cy="51.9" r="1.8"/><circle cx="246.8" cy="40.7" r="1.8"/><circle cx="326.1" cy="21.0" r="1.8"/><circle cx="249.5" cy="30.4" r="1.8"/><circle cx="332.1" cy="33.6" r="1.8"/><circle cx="274.7" cy="41.3" r="1.8"/><circle cx="248.0" cy="43.6" r="1.8"/><circle cx="267.7" cy="44.5" r="1.8"/><circle cx="207.2" cy="43.1" r="1.8"/><circle cx="297.2" cy="22.2" r="1.8"/><circle cx="251.2" cy="36.3" r="1.8"/><circle cx="314.3" cy="29.3" r="1.8"/><circle cx="228.0" cy="45.3" r="1.8"/><circle cx="327.4" cy="25.2" r="1.8"/><circle cx="263.5" cy="29.7" r="1.8"/><circle cx="205.9" cy="44.5" r="1.8"/><circle cx="269.9" cy="43.5" r="1.8"/><circle cx="263.2" cy="36.7" r="1.8"/><circle cx="264.6" cy="39.9" r="1.8"/><circle cx="342.6" cy="31.0" r="1.8"/><circle cx="265.1" cy="23.7" r="1.8"/><circle cx="278.9" cy="40.5" r="1.8"/><circle cx="273.9" cy="43.2" r="1.8"/><circle cx="264.1" cy="31.6" r="1.8"/><circle cx="240.0" cy="33.8" r="1.8"/><circle cx="300.1" cy="43.0" r="1.8"/><circle cx="277.4" cy="25.8" r="1.8"/><circle cx="274.9" cy="35.5" r="1.8"/><circle cx="253.4" cy="43.8" r="1.8"/><circle cx="311.8" cy="31.3" r="1.8"/><circle cx="286.8" cy="29.4" r="1.8"/><circle cx="256.4" cy="44.9" r="1.8"/><circle cx="233.2" cy="32.9" r="1.8"/><circle cx="322.9" cy="35.3" r="1.8"/><circle cx="311.3" cy="40.0" r="1.8"/><circle cx="275.7" cy="27.7" r="1.8"/><circle cx="275.5" cy="28.7" r="1.8"/><circle cx="202.4" cy="28.7" r="1.8"/><circle cx="272.1" cy="41.8" r="1.8"/><circle cx="276.8" cy="36.8" r="1.8"/><circle cx="312.0" cy="32.8" r="1.8"/><circle cx="232.1" cy="45.6" r="1.8"/><circle cx="287.3" cy="31.4" r="1.8"/><circle cx="226.9" cy="39.7" r="1.8"/><circle cx="334.4" cy="32.3" r="1.8"/><circle cx="308.6" cy="44.1" r="1.8"/><circle cx="294.2" cy="28.1" r="1.8"/><circle cx="323.8" cy="29.8" r="1.8"/><circle cx="210.0" cy="23.0" r="1.8"/><circle cx="164.0" cy="59.5" r="1.8"/></g>
<path d="M271.9 40.8h5M274.4 38.3v5M323.1 40.6h5M325.6 38.1v5M277.9 25.1h5M280.4 22.6v5M260.1 45.8h5M262.6 43.3v5M335.9 30.4h5M338.4 27.9v5M256.1 60.7h5M258.6 58.2v5M296.7 29.2h5M299.2 26.7v5M307.4 42.5h5M309.9 40.0v5M333.8 36.2h5M336.3 33.7v5M223.7 40.8h5M226.2 38.3v5M317.4 35.7h5M319.9 33.2v5M338.2 35.0h5M340.7 32.5v5M283.0 31.3h5M285.5 28.8v5M303.0 41.7h5M305.5 39.2v5M270.3 44.2h5M272.8 41.7v5M284.5 43.3h5M287.0 40.8v5M386.3 35.6h5M388.8 33.1v5M220.7 39.4h5M223.2 36.9v5M288.1 44.7h5M290.6 42.2v5M223.3 41.2h5M225.8 38.7v5M283.9 50.5h5M286.4 48.0v5M282.7 60.9h5M285.2 58.4v5M240.1 48.7h5M242.6 46.2v5M292.4 51.8h5M294.9 49.3v5M231.8 74.9h5M234.3 72.4v5M335.9 30.6h5M338.4 28.1v5M260.4 51.5h5M262.9 49.0v5M344.3 20.5h5M346.8 18.0v5M372.1 29.1h5M374.6 26.6v5M247.1 61.4h5M249.6 58.9v5M306.6 20.6h5M309.1 18.1v5M378.6 23.3h5M381.1 20.8v5M306.5 36.2h5M309.0 33.7v5M302.7 44.8h5M305.2 42.3v5M268.1 42.1h5M270.6 39.6v5M240.1 38.3h5M242.6 35.8v5M257.6 55.9h5M260.1 53.4v5M255.7 52.5h5M258.2 50.0v5M257.2 60.9h5M259.7 58.4v5M283.0 26.3h5M285.5 23.8v5M328.1 41.3h5M330.6 38.8v5M307.8 46.4h5M310.3 43.9v5M233.3 52.6h5M235.8 50.1v5M298.9 40.7h5M301.4 38.2v5M233.3 51.7h5M235.8 49.2v5M325.8 49.2h5M328.3 46.7v5M324.0 32.9h5M326.5 30.4v5M254.2 49.2h5M256.7 46.7v5M265.8 33.4h5M268.3 30.9v5M335.9 53.7h5M338.4 51.2v5M318.5 42.1h5M321.0 39.6v5M286.2 38.8h5M288.7 36.3v5M337.9 31.1h5M340.4 28.6v5M206.3 48.5h5M208.8 46.0v5M340.2 31.1h5M342.7 28.6v5M369.2 30.7h5M371.7 28.2v5M213.7 44.6h5M216.2 42.1v5M259.0 48.8h5M261.5 46.3v5M341.7 30.1h5M344.2 27.6v5M265.8 23.9h5M268.3 21.4v5M269.5 45.3h5M272.0 42.8v5M309.1 46.3h5M311.6 43.8v5M276.4 48.2h5M278.9 45.7v5M364.8 31.2h5M367.3 28.7v5M318.5 26.0h5M321.0 23.5v5M304.1 34.2h5M306.6 31.7v5M328.1 40.0h5M330.6 37.5v5M224.2 29.6h5M226.7 27.1v5M276.5 50.5h5M279.0 48.0v5M317.1 41.4h5M319.6 38.9v5M320.0 51.6h5M322.5 49.1v5M241.5 17.0h5M244.0 14.5v5M155.0 78.4h5M157.5 75.9v5M168.5 73.0h5M171.0 70.5v5M188.7 70.3h5M191.2 67.8v5M177.9 53.5h5M180.4 51.0v5M188.0 56.8h5M190.5 54.3v5" stroke="#151515" stroke-width="1.05" fill="none"/>
<g fill="none" stroke="#acacac" stroke-width="1.05"><circle cx="310.3" cy="40.0" r="1.8"/><circle cx="261.0" cy="30.6" r="1.8"/><circle cx="247.9" cy="43.3" r="1.8"/><circle cx="264.1" cy="33.8" r="1.8"/><circle cx="304.7" cy="43.6" r="1.8"/><circle cx="244.6" cy="40.3" r="1.8"/><circle cx="292.4" cy="26.6" r="1.8"/><circle cx="227.2" cy="35.7" r="1.8"/><circle cx="317.1" cy="31.0" r="1.8"/><circle cx="220.0" cy="43.1" r="1.8"/><circle cx="253.1" cy="44.9" r="1.8"/><circle cx="304.7" cy="28.7" r="1.8"/><circle cx="303.5" cy="40.3" r="1.8"/><circle cx="258.2" cy="43.5" r="1.8"/><circle cx="294.0" cy="25.8" r="1.8"/><circle cx="217.3" cy="49.3" r="1.8"/><circle cx="250.3" cy="32.3" r="1.8"/><circle cx="287.3" cy="37.2" r="1.8"/><circle cx="282.8" cy="25.1" r="1.8"/><circle cx="269.7" cy="36.1" r="1.8"/><circle cx="233.1" cy="41.4" r="1.8"/><circle cx="349.7" cy="26.5" r="1.8"/><circle cx="346.8" cy="15.8" r="1.8"/><circle cx="271.8" cy="48.5" r="1.8"/><circle cx="298.6" cy="24.5" r="1.8"/><circle cx="236.4" cy="38.4" r="1.8"/><circle cx="295.0" cy="51.5" r="1.8"/><circle cx="333.6" cy="32.9" r="1.8"/><circle cx="272.2" cy="35.6" r="1.8"/><circle cx="269.2" cy="46.6" r="1.8"/><circle cx="267.5" cy="40.1" r="1.8"/><circle cx="304.6" cy="31.4" r="1.8"/><circle cx="277.8" cy="32.0" r="1.8"/><circle cx="302.9" cy="39.7" r="1.8"/><circle cx="241.1" cy="37.6" r="1.8"/><circle cx="313.7" cy="45.7" r="1.8"/><circle cx="214.7" cy="37.1" r="1.8"/><circle cx="248.9" cy="29.3" r="1.8"/><circle cx="235.0" cy="46.9" r="1.8"/><circle cx="283.1" cy="41.3" r="1.8"/><circle cx="253.6" cy="38.4" r="1.8"/><circle cx="292.9" cy="35.5" r="1.8"/><circle cx="350.8" cy="28.3" r="1.8"/><circle cx="268.4" cy="48.3" r="1.8"/><circle cx="269.6" cy="23.3" r="1.8"/><circle cx="277.0" cy="32.7" r="1.8"/><circle cx="222.0" cy="53.8" r="1.8"/><circle cx="276.0" cy="32.9" r="1.8"/><circle cx="271.3" cy="31.9" r="1.8"/><circle cx="282.0" cy="24.1" r="1.8"/><circle cx="250.0" cy="43.3" r="1.8"/><circle cx="263.2" cy="45.6" r="1.8"/><circle cx="293.5" cy="40.3" r="1.8"/><circle cx="336.5" cy="32.1" r="1.8"/><circle cx="221.6" cy="47.2" r="1.8"/><circle cx="252.9" cy="32.8" r="1.8"/><circle cx="329.0" cy="45.3" r="1.8"/><circle cx="226.3" cy="44.0" r="1.8"/><circle cx="256.9" cy="36.6" r="1.8"/><circle cx="244.8" cy="44.6" r="1.8"/><circle cx="293.5" cy="35.3" r="1.8"/><circle cx="254.0" cy="35.3" r="1.8"/><circle cx="214.9" cy="38.4" r="1.8"/><circle cx="341.4" cy="36.2" r="1.8"/><circle cx="273.4" cy="40.4" r="1.8"/><circle cx="241.3" cy="31.6" r="1.8"/><circle cx="266.1" cy="31.8" r="1.8"/><circle cx="297.7" cy="29.8" r="1.8"/><circle cx="233.6" cy="49.9" r="1.8"/><circle cx="305.9" cy="31.6" r="1.8"/><circle cx="278.3" cy="32.1" r="1.8"/><circle cx="231.6" cy="52.5" r="1.8"/><circle cx="312.8" cy="35.4" r="1.8"/><circle cx="282.1" cy="30.2" r="1.8"/><circle cx="201.2" cy="44.7" r="1.8"/><circle cx="219.3" cy="32.1" r="1.8"/><circle cx="259.6" cy="32.9" r="1.8"/><circle cx="249.1" cy="42.2" r="1.8"/><circle cx="276.2" cy="29.4" r="1.8"/><circle cx="287.4" cy="17.8" r="1.8"/><circle cx="264.9" cy="34.1" r="1.8"/><circle cx="270.2" cy="38.7" r="1.8"/><circle cx="274.0" cy="41.3" r="1.8"/><circle cx="268.4" cy="52.1" r="1.8"/><circle cx="331.7" cy="30.3" r="1.8"/><circle cx="261.5" cy="32.5" r="1.8"/><circle cx="318.0" cy="17.0" r="1.8"/><circle cx="177.7" cy="46.5" r="1.8"/></g>
<path d="M341.9 46.1h5M344.4 43.6v5M330.2 53.3h5M332.7 50.8v5M262.0 36.6h5M264.5 34.1v5M276.8 46.7h5M279.3 44.2v5M345.3 51.1h5M347.8 48.6v5M273.2 40.0h5M275.7 37.5v5M330.2 34.9h5M332.7 32.4v5M275.9 52.9h5M278.4 50.4v5M358.4 35.5h5M360.9 33.0v5M238.6 27.5h5M241.1 25.0v5M298.4 49.0h5M300.9 46.5v5M323.6 39.5h5M326.1 37.0v5M304.8 34.3h5M307.3 31.8v5M269.9 69.4h5M272.4 66.9v5M282.4 32.8h5M284.9 30.3v5M369.1 35.0h5M371.6 32.5v5M298.4 38.3h5M300.9 35.8v5M334.5 32.6h5M337.0 30.1v5M315.0 39.3h5M317.5 36.8v5M332.5 42.2h5M335.0 39.7v5M198.8 53.9h5M201.3 51.4v5M225.0 61.7h5M227.5 59.2v5M243.5 67.5h5M246.0 65.0v5M312.3 19.8h5M314.8 17.3v5M272.2 47.8h5M274.7 45.3v5M283.0 50.8h5M285.5 48.3v5M291.8 44.0h5M294.3 41.5v5M269.1 52.8h5M271.6 50.3v5M254.4 35.4h5M256.9 32.9v5M346.4 47.0h5M348.9 44.5v5M337.1 38.4h5M339.6 35.9v5M374.7 26.7h5M377.2 24.2v5M300.6 35.3h5M303.1 32.8v5M273.5 44.4h5M276.0 41.9v5M278.6 36.5h5M281.1 34.0v5M296.0 35.3h5M298.5 32.8v5M359.8 28.7h5M362.3 26.2v5M328.8 32.5h5M331.3 30.0v5M292.7 34.5h5M295.2 32.0v5M311.2 26.5h5M313.7 24.0v5M229.1 65.5h5M231.6 63.0v5M383.9 30.8h5M386.4 28.3v5M378.0 30.0h5M380.5 27.5v5M284.5 47.0h5M287.0 44.5v5M275.5 20.4h5M278.0 17.9v5M259.5 57.0h5M262.0 54.5v5M381.9 31.1h5M384.4 28.6v5M309.1 43.8h5M311.6 41.3v5M333.6 36.7h5M336.1 34.2v5M347.3 36.0h5M349.8 33.5v5M233.4 56.5h5M235.9 54.0v5M339.1 39.0h5M341.6 36.5v5M274.6 32.5h5M277.1 30.0v5M363.1 35.1h5M365.6 32.6v5M321.0 32.0h5M323.5 29.5v5M328.2 23.0h5M330.7 20.5v5M317.3 57.7h5M319.8 55.2v5M318.8 54.6h5M321.3 52.1v5M332.2 44.4h5M334.7 41.9v5M335.0 35.7h5M337.5 33.2v5M316.4 22.1h5M318.9 19.6v5M306.4 47.8h5M308.9 45.3v5M289.6 47.6h5M292.1 45.1v5M290.9 35.7h5M293.4 33.2v5M282.3 40.5h5M284.8 38.0v5M312.2 29.3h5M314.7 26.8v5M366.8 24.2h5M369.3 21.7v5M300.2 29.3h5M302.7 26.8v5M300.6 27.2h5M303.1 24.7v5M353.1 49.8h5M355.6 47.3v5M311.1 28.8h5M313.6 26.3v5M327.5 11.0h5M330.0 8.5v5M161.1 74.4h5M163.6 71.9v5M169.2 76.4h5M171.7 73.9v5M194.8 78.4h5M197.3 75.9v5M177.3 56.8h5M179.8 54.3v5" stroke="#151515" stroke-width="1.05" fill="none"/>
<path d="M65.9 59.0L443.1 22.4" stroke="#222" stroke-width="1.25" fill="none"/>
<path d="M65.9 75.3L443.1 21.5" stroke="#222" stroke-width="1.5" stroke-dasharray="6.3 5.15" fill="none"/>
<path d="M80.3 33.7H76.3V86.2H80.3" stroke="#222" stroke-width="1.2" fill="none"/>
<path d="M80.3 67.7H83.4" stroke="#222" stroke-width="1.2" fill="none"/>
<path d="M83.4 67.7V92.0" stroke="#222" stroke-width="1.2" stroke-dasharray="5 5.3 7 3.2 7" fill="none"/>
<path d="M83.4 92.0H80.3" stroke="#222" stroke-width="1.2" fill="none"/>
<rect x="65.9" y="2.7" width="377.2" height="124.4" fill="none" stroke="#222" stroke-width="1.3"/>
<path d="M63.900000000000006 13.4H65.9" stroke="#222" stroke-width="1.2"/>
<text transform="translate(61 17.8) scale(1.01 1)" font-size="9.45" text-anchor="end" fill="#262626">0.22</text>
<path d="M63.900000000000006 39.0H65.9" stroke="#222" stroke-width="1.2"/>
<text transform="translate(61 43.4) scale(1.01 1)" font-size="9.45" text-anchor="end" fill="#262626">0.18</text>
<path d="M63.900000000000006 64.6H65.9" stroke="#222" stroke-width="1.2"/>
<text transform="translate(61 69.0) scale(1.01 1)" font-size="9.45" text-anchor="end" fill="#262626">0.14</text>
<path d="M63.900000000000006 90.2H65.9" stroke="#222" stroke-width="1.2"/>
<text transform="translate(61 94.6) scale(1.01 1)" font-size="9.45" text-anchor="end" fill="#262626">0.10</text>
<path d="M63.900000000000006 115.8H65.9" stroke="#222" stroke-width="1.2"/>
<text transform="translate(61 120.2) scale(1.01 1)" font-size="9.45" text-anchor="end" fill="#262626">0.06</text>
<text transform="translate(29 65.3) rotate(-90)" font-size="14" text-anchor="middle" fill="#222">WSA</text>
<text transform="translate(31.7 14.2) scale(1.12 1)" font-size="16.8" text-anchor="end" fill="#111">NE</text>
<path d="M65.9 162.4H443.1M65.9 188.0H443.1M65.9 213.6H443.1M65.9 239.2H443.1M65.9 264.8H443.1M80.3 151.7V276.1M150.0 151.7V276.1M219.7 151.7V276.1M289.5 151.7V276.1M359.2 151.7V276.1M428.9 151.7V276.1" stroke="#cfcfcf" stroke-width="0.95" stroke-dasharray="2.1 3.65" fill="none"/>
<g fill="none" stroke="#acacac" stroke-width="1.05"><circle cx="243.8" cy="182.9" r="1.8"/><circle cx="263.0" cy="188.0" r="1.8"/><circle cx="283.0" cy="183.7" r="1.8"/><circle cx="345.4" cy="168.3" r="1.8"/><circle cx="286.2" cy="184.9" r="1.8"/><circle cx="285.2" cy="186.3" r="1.8"/><circle cx="224.1" cy="188.8" r="1.8"/><circle cx="291.4" cy="186.3" r="1.8"/><circle cx="278.8" cy="179.9" r="1.8"/><circle cx="305.0" cy="187.4" r="1.8"/><circle cx="272.0" cy="194.2" r="1.8"/><circle cx="228.6" cy="179.4" r="1.8"/><circle cx="250.8" cy="193.6" r="1.8"/><circle cx="292.5" cy="180.0" r="1.8"/><circle cx="326.3" cy="165.3" r="1.8"/><circle cx="246.0" cy="187.8" r="1.8"/><circle cx="208.2" cy="194.3" r="1.8"/><circle cx="196.5" cy="187.4" r="1.8"/><circle cx="276.8" cy="183.7" r="1.8"/><circle cx="272.4" cy="185.9" r="1.8"/><circle cx="293.5" cy="184.0" r="1.8"/><circle cx="260.6" cy="178.7" r="1.8"/><circle cx="271.8" cy="191.3" r="1.8"/><circle cx="296.7" cy="180.6" r="1.8"/><circle cx="211.7" cy="172.8" r="1.8"/><circle cx="279.8" cy="171.2" r="1.8"/><circle cx="258.2" cy="184.8" r="1.8"/><circle cx="288.9" cy="198.1" r="1.8"/><circle cx="194.6" cy="204.5" r="1.8"/><circle cx="228.1" cy="193.7" r="1.8"/><circle cx="199.7" cy="188.9" r="1.8"/><circle cx="257.3" cy="179.9" r="1.8"/><circle cx="292.2" cy="173.2" r="1.8"/><circle cx="244.5" cy="184.1" r="1.8"/><circle cx="288.9" cy="193.9" r="1.8"/><circle cx="318.8" cy="181.5" r="1.8"/><circle cx="239.8" cy="194.3" r="1.8"/><circle cx="341.3" cy="160.2" r="1.8"/><circle cx="194.6" cy="191.3" r="1.8"/><circle cx="305.3" cy="161.9" r="1.8"/><circle cx="279.9" cy="182.0" r="1.8"/><circle cx="264.5" cy="194.4" r="1.8"/><circle cx="213.9" cy="191.5" r="1.8"/><circle cx="210.2" cy="182.0" r="1.8"/><circle cx="261.2" cy="190.1" r="1.8"/><circle cx="272.1" cy="183.7" r="1.8"/><circle cx="214.5" cy="179.4" r="1.8"/><circle cx="294.1" cy="184.9" r="1.8"/><circle cx="239.5" cy="185.3" r="1.8"/><circle cx="216.1" cy="194.6" r="1.8"/><circle cx="245.1" cy="187.8" r="1.8"/><circle cx="233.9" cy="185.0" r="1.8"/><circle cx="225.4" cy="184.5" r="1.8"/><circle cx="270.9" cy="194.0" r="1.8"/><circle cx="307.2" cy="180.9" r="1.8"/><circle cx="199.0" cy="179.1" r="1.8"/><circle cx="198.0" cy="187.8" r="1.8"/><circle cx="266.3" cy="188.1" r="1.8"/><circle cx="194.9" cy="187.1" r="1.8"/><circle cx="199.5" cy="194.1" r="1.8"/><circle cx="264.9" cy="200.0" r="1.8"/><circle cx="253.0" cy="167.3" r="1.8"/><circle cx="299.9" cy="182.6" r="1.8"/><circle cx="262.8" cy="180.5" r="1.8"/><circle cx="331.7" cy="173.2" r="1.8"/><circle cx="249.9" cy="190.2" r="1.8"/><circle cx="253.7" cy="186.8" r="1.8"/><circle cx="201.5" cy="209.7" r="1.8"/><circle cx="313.1" cy="190.7" r="1.8"/><circle cx="256.9" cy="190.5" r="1.8"/><circle cx="256.8" cy="181.7" r="1.8"/><circle cx="319.7" cy="177.7" r="1.8"/><circle cx="283.7" cy="194.6" r="1.8"/><circle cx="279.2" cy="192.6" r="1.8"/><circle cx="162.9" cy="184.8" r="1.8"/><circle cx="171.2" cy="192.4" r="1.8"/><circle cx="180.6" cy="187.0" r="1.8"/><circle cx="186.0" cy="181.6" r="1.8"/><circle cx="186.9" cy="196.9" r="1.8"/></g>
<path d="M197.8 191.4h5M200.3 188.9v5M325.2 206.1h5M327.7 203.6v5M310.5 192.0h5M313.0 189.5v5M313.0 203.8h5M315.5 201.3v5M294.1 190.1h5M296.6 187.6v5M326.8 179.9h5M329.3 177.4v5M332.5 187.3h5M335.0 184.8v5M256.6 195.7h5M259.1 193.2v5M279.8 205.2h5M282.3 202.7v5M248.9 195.3h5M251.4 192.8v5M286.7 199.2h5M289.2 196.7v5M354.3 179.6h5M356.8 177.1v5M239.0 197.6h5M241.5 195.1v5M280.8 189.5h5M283.3 187.0v5M268.0 198.7h5M270.5 196.2v5M296.3 194.3h5M298.8 191.8v5M294.6 205.0h5M297.1 202.5v5M248.7 209.2h5M251.2 206.7v5M239.8 215.4h5M242.3 212.9v5M316.5 191.1h5M319.0 188.6v5M352.5 189.3h5M355.0 186.8v5M317.1 190.0h5M319.6 187.5v5M340.4 179.3h5M342.9 176.8v5M316.1 180.1h5M318.6 177.6v5M287.8 181.5h5M290.3 179.0v5M289.9 194.1h5M292.4 191.6v5M306.2 189.5h5M308.7 187.0v5M314.0 186.7h5M316.5 184.2v5M289.5 199.2h5M292.0 196.7v5M296.0 198.0h5M298.5 195.5v5M236.0 206.7h5M238.5 204.2v5M346.5 199.2h5M349.0 196.7v5M365.3 185.1h5M367.8 182.6v5M383.4 178.7h5M385.9 176.2v5M342.8 201.8h5M345.3 199.3v5M304.7 201.7h5M307.2 199.2v5M310.3 207.9h5M312.8 205.4v5M318.2 200.9h5M320.7 198.4v5M260.4 203.4h5M262.9 200.9v5M204.0 206.7h5M206.5 204.2v5M295.9 202.6h5M298.4 200.1v5M301.2 188.9h5M303.7 186.4v5M330.1 181.1h5M332.6 178.6v5M288.4 197.6h5M290.9 195.1v5M331.7 190.8h5M334.2 188.3v5M334.4 184.1h5M336.9 181.6v5M290.7 199.3h5M293.2 196.8v5M350.5 183.0h5M353.0 180.5v5M333.9 171.8h5M336.4 169.3v5M248.5 205.0h5M251.0 202.5v5M364.6 185.0h5M367.1 182.5v5M373.0 176.8h5M375.5 174.3v5M230.6 194.7h5M233.1 192.2v5M273.3 202.7h5M275.8 200.2v5M235.3 200.4h5M237.8 197.9v5M259.5 189.4h5M262.0 186.9v5M331.0 189.9h5M333.5 187.4v5M232.4 217.5h5M234.9 215.0v5M304.7 191.3h5M307.2 188.8v5M195.9 211.6h5M198.4 209.1v5M256.5 193.4h5M259.0 190.9v5M301.7 192.5h5M304.2 190.0v5M269.0 201.2h5M271.5 198.7v5M204.8 205.7h5M207.3 203.2v5M377.4 184.3h5M379.9 181.8v5M256.0 192.5h5M258.5 190.0v5M367.5 185.1h5M370.0 182.6v5M321.7 184.5h5M324.2 182.0v5M260.4 218.9h5M262.9 216.4v5M220.4 199.1h5M222.9 196.6v5M215.7 203.6h5M218.2 201.1v5M173.6 200.4h5M176.1 197.9v5M193.3 207.6h5M195.8 205.1v5M195.1 212.1h5M197.6 209.6v5" stroke="#151515" stroke-width="1.05" fill="none"/>
<g fill="none" stroke="#acacac" stroke-width="1.05"><circle cx="269.4" cy="176.9" r="1.8"/><circle cx="308.2" cy="185.8" r="1.8"/><circle cx="231.3" cy="183.0" r="1.8"/><circle cx="235.5" cy="181.4" r="1.8"/><circle cx="266.7" cy="163.3" r="1.8"/><circle cx="328.1" cy="177.3" r="1.8"/><circle cx="285.5" cy="166.0" r="1.8"/><circle cx="261.4" cy="187.7" r="1.8"/><circle cx="272.0" cy="179.7" r="1.8"/><circle cx="202.8" cy="189.4" r="1.8"/><circle cx="205.5" cy="187.8" r="1.8"/><circle cx="264.0" cy="192.7" r="1.8"/><circle cx="258.3" cy="173.8" r="1.8"/><circle cx="219.9" cy="194.3" r="1.8"/><circle cx="260.0" cy="181.8" r="1.8"/><circle cx="230.2" cy="190.8" r="1.8"/><circle cx="299.4" cy="194.9" r="1.8"/><circle cx="246.3" cy="190.1" r="1.8"/><circle cx="287.4" cy="173.0" r="1.8"/><circle cx="213.0" cy="192.0" r="1.8"/><circle cx="271.8" cy="180.4" r="1.8"/><circle cx="324.5" cy="175.8" r="1.8"/><circle cx="194.6" cy="179.0" r="1.8"/><circle cx="255.9" cy="179.9" r="1.8"/><circle cx="253.8" cy="185.8" r="1.8"/><circle cx="295.9" cy="183.3" r="1.8"/><circle cx="276.0" cy="181.5" r="1.8"/><circle cx="275.9" cy="196.0" r="1.8"/><circle cx="265.6" cy="171.5" r="1.8"/><circle cx="288.8" cy="178.0" r="1.8"/><circle cx="202.3" cy="193.5" r="1.8"/><circle cx="304.9" cy="172.4" r="1.8"/><circle cx="252.7" cy="177.6" r="1.8"/><circle cx="262.8" cy="193.7" r="1.8"/><circle cx="318.0" cy="181.0" r="1.8"/><circle cx="338.2" cy="164.4" r="1.8"/><circle cx="244.5" cy="195.0" r="1.8"/><circle cx="220.3" cy="183.4" r="1.8"/><circle cx="256.1" cy="174.4" r="1.8"/><circle cx="284.9" cy="168.9" r="1.8"/><circle cx="320.0" cy="178.3" r="1.8"/><circle cx="276.2" cy="189.4" r="1.8"/><circle cx="265.7" cy="195.9" r="1.8"/><circle cx="197.6" cy="189.0" r="1.8"/><circle cx="202.7" cy="184.5" r="1.8"/><circle cx="237.2" cy="175.4" r="1.8"/><circle cx="342.5" cy="173.8" r="1.8"/><circle cx="280.9" cy="177.8" r="1.8"/><circle cx="198.3" cy="195.9" r="1.8"/><circle cx="198.5" cy="194.3" r="1.8"/><circle cx="227.4" cy="171.6" r="1.8"/><circle cx="258.5" cy="180.1" r="1.8"/><circle cx="306.9" cy="194.2" r="1.8"/><circle cx="216.8" cy="192.5" r="1.8"/><circle cx="232.3" cy="182.0" r="1.8"/><circle cx="333.8" cy="174.8" r="1.8"/><circle cx="292.6" cy="180.2" r="1.8"/><circle cx="225.5" cy="179.0" r="1.8"/><circle cx="238.4" cy="199.0" r="1.8"/><circle cx="276.8" cy="172.0" r="1.8"/><circle cx="326.6" cy="189.2" r="1.8"/><circle cx="212.6" cy="174.9" r="1.8"/><circle cx="265.3" cy="185.1" r="1.8"/><circle cx="263.7" cy="198.5" r="1.8"/><circle cx="247.3" cy="177.2" r="1.8"/><circle cx="230.0" cy="174.8" r="1.8"/><circle cx="248.9" cy="186.6" r="1.8"/><circle cx="254.6" cy="195.2" r="1.8"/><circle cx="298.8" cy="192.2" r="1.8"/><circle cx="313.2" cy="172.1" r="1.8"/><circle cx="212.2" cy="209.7" r="1.8"/><circle cx="266.8" cy="188.6" r="1.8"/><circle cx="286.3" cy="179.9" r="1.8"/><circle cx="284.7" cy="183.2" r="1.8"/><circle cx="162.9" cy="188.4" r="1.8"/><circle cx="170.7" cy="196.0" r="1.8"/><circle cx="177.9" cy="195.1" r="1.8"/><circle cx="188.7" cy="184.3" r="1.8"/></g>
<path d="M360.4 193.1h5M362.9 190.6v5M308.1 190.3h5M310.6 187.8v5M196.3 209.5h5M198.8 207.0v5M321.2 188.4h5M323.7 185.9v5M247.2 197.1h5M249.7 194.6v5M303.4 201.7h5M305.9 199.2v5M359.4 182.9h5M361.9 180.4v5M284.8 198.0h5M287.3 195.5v5M346.1 184.4h5M348.6 181.9v5M244.4 194.5h5M246.9 192.0v5M201.8 215.3h5M204.3 212.8v5M265.9 182.8h5M268.4 180.3v5M297.2 200.2h5M299.7 197.7v5M337.4 191.0h5M339.9 188.5v5M290.7 197.3h5M293.2 194.8v5M312.8 185.0h5M315.3 182.5v5M248.4 183.9h5M250.9 181.4v5M252.4 195.6h5M254.9 193.1v5M286.7 186.1h5M289.2 183.6v5M286.6 187.9h5M289.1 185.4v5M354.2 175.8h5M356.7 173.3v5M296.7 190.8h5M299.2 188.3v5M214.2 207.2h5M216.7 204.7v5M355.9 174.9h5M358.4 172.4v5M245.5 187.8h5M248.0 185.3v5M326.5 190.1h5M329.0 187.6v5M262.5 209.4h5M265.0 206.9v5M294.6 197.6h5M297.1 195.1v5M286.1 197.4h5M288.6 194.9v5M292.7 195.3h5M295.2 192.8v5M245.1 211.4h5M247.6 208.9v5M303.1 198.2h5M305.6 195.7v5M251.0 201.4h5M253.5 198.9v5M287.5 196.3h5M290.0 193.8v5M275.5 198.6h5M278.0 196.1v5M316.0 176.0h5M318.5 173.5v5M326.5 189.1h5M329.0 186.6v5M301.8 182.3h5M304.3 179.8v5M287.7 200.7h5M290.2 198.2v5M230.9 204.0h5M233.4 201.5v5M285.8 189.7h5M288.3 187.2v5M336.8 196.7h5M339.3 194.2v5M216.4 193.9h5M218.9 191.4v5M253.2 207.6h5M255.7 205.1v5M363.7 191.7h5M366.2 189.2v5M257.6 201.2h5M260.1 198.7v5M345.1 193.2h5M347.6 190.7v5M258.6 194.0h5M261.1 191.5v5M333.3 190.9h5M335.8 188.4v5M325.7 197.6h5M328.2 195.1v5M256.0 210.1h5M258.5 207.6v5M252.1 191.7h5M254.6 189.2v5M357.1 185.2h5M359.6 182.7v5M221.7 199.9h5M224.2 197.4v5M284.2 193.2h5M286.7 190.7v5M293.6 190.8h5M296.1 188.3v5M256.3 203.4h5M258.8 200.9v5M224.5 197.5h5M227.0 195.0v5M267.2 181.1h5M269.7 178.6v5M318.1 185.0h5M320.6 182.5v5M253.5 205.3h5M256.0 202.8v5M279.3 194.9h5M281.8 192.4v5M347.7 190.9h5M350.2 188.4v5M302.3 202.0h5M304.8 199.5v5M346.7 174.9h5M349.2 172.4v5M265.9 200.4h5M268.4 197.9v5M270.9 189.6h5M273.4 187.1v5M255.9 197.8h5M258.4 195.3v5M329.8 186.2h5M332.3 183.7v5M246.3 199.4h5M248.8 196.9v5M240.5 214.4h5M243.0 211.9v5M174.5 207.6h5M177.0 205.1v5M186.2 222.9h5M188.7 220.4v5" stroke="#151515" stroke-width="1.05" fill="none"/>
<g fill="none" stroke="#acacac" stroke-width="1.05"><circle cx="294.6" cy="198.2" r="1.8"/><circle cx="293.1" cy="186.1" r="1.8"/><circle cx="241.7" cy="182.5" r="1.8"/><circle cx="264.3" cy="175.4" r="1.8"/><circle cx="290.1" cy="180.5" r="1.8"/><circle cx="269.7" cy="199.8" r="1.8"/><circle cx="311.3" cy="191.9" r="1.8"/><circle cx="286.9" cy="178.3" r="1.8"/><circle cx="346.5" cy="173.4" r="1.8"/><circle cx="232.5" cy="166.4" r="1.8"/><circle cx="289.7" cy="178.7" r="1.8"/><circle cx="245.3" cy="193.4" r="1.8"/><circle cx="223.9" cy="188.0" r="1.8"/><circle cx="346.7" cy="181.0" r="1.8"/><circle cx="294.6" cy="160.7" r="1.8"/><circle cx="265.2" cy="191.1" r="1.8"/><circle cx="281.8" cy="192.0" r="1.8"/><circle cx="252.6" cy="184.0" r="1.8"/><circle cx="218.8" cy="183.3" r="1.8"/><circle cx="336.3" cy="181.7" r="1.8"/><circle cx="195.4" cy="211.3" r="1.8"/><circle cx="224.1" cy="197.2" r="1.8"/><circle cx="225.8" cy="185.1" r="1.8"/><circle cx="257.4" cy="180.4" r="1.8"/><circle cx="282.1" cy="189.0" r="1.8"/><circle cx="282.1" cy="182.6" r="1.8"/><circle cx="270.1" cy="183.2" r="1.8"/><circle cx="251.4" cy="185.5" r="1.8"/><circle cx="272.8" cy="180.1" r="1.8"/><circle cx="228.6" cy="195.2" r="1.8"/><circle cx="265.6" cy="175.0" r="1.8"/><circle cx="230.8" cy="175.1" r="1.8"/><circle cx="289.0" cy="179.3" r="1.8"/><circle cx="256.6" cy="190.6" r="1.8"/><circle cx="283.0" cy="178.3" r="1.8"/><circle cx="324.8" cy="168.9" r="1.8"/><circle cx="303.9" cy="185.4" r="1.8"/><circle cx="248.8" cy="182.6" r="1.8"/><circle cx="234.8" cy="169.0" r="1.8"/><circle cx="253.7" cy="181.4" r="1.8"/><circle cx="290.2" cy="192.2" r="1.8"/><circle cx="307.5" cy="188.8" r="1.8"/><circle cx="259.6" cy="163.9" r="1.8"/><circle cx="202.2" cy="197.1" r="1.8"/><circle cx="208.4" cy="184.9" r="1.8"/><circle cx="342.8" cy="171.5" r="1.8"/><circle cx="270.9" cy="191.8" r="1.8"/><circle cx="299.3" cy="182.6" r="1.8"/><circle cx="234.1" cy="190.5" r="1.8"/><circle cx="220.2" cy="175.5" r="1.8"/><circle cx="227.0" cy="192.9" r="1.8"/><circle cx="300.9" cy="178.4" r="1.8"/><circle cx="276.0" cy="177.5" r="1.8"/><circle cx="310.5" cy="174.3" r="1.8"/><circle cx="258.7" cy="189.8" r="1.8"/><circle cx="321.6" cy="176.9" r="1.8"/><circle cx="236.7" cy="181.0" r="1.8"/><circle cx="281.3" cy="186.3" r="1.8"/><circle cx="302.5" cy="201.3" r="1.8"/><circle cx="329.2" cy="169.5" r="1.8"/><circle cx="255.4" cy="191.5" r="1.8"/><circle cx="293.8" cy="174.4" r="1.8"/><circle cx="258.5" cy="195.5" r="1.8"/><circle cx="211.5" cy="190.0" r="1.8"/><circle cx="284.4" cy="170.9" r="1.8"/><circle cx="239.9" cy="186.9" r="1.8"/><circle cx="305.0" cy="181.7" r="1.8"/><circle cx="229.4" cy="185.6" r="1.8"/><circle cx="241.1" cy="190.1" r="1.8"/><circle cx="260.4" cy="184.8" r="1.8"/><circle cx="292.6" cy="180.4" r="1.8"/><circle cx="262.4" cy="164.1" r="1.8"/><circle cx="281.2" cy="189.1" r="1.8"/><circle cx="322.0" cy="156.5" r="1.8"/><circle cx="162.9" cy="203.1" r="1.8"/><circle cx="172.5" cy="186.6" r="1.8"/><circle cx="177.0" cy="198.7" r="1.8"/><circle cx="190.4" cy="185.2" r="1.8"/></g>
<path d="M318.4 186.1h5M320.9 183.6v5M255.6 203.0h5M258.1 200.5v5M281.3 206.0h5M283.8 203.5v5M284.0 194.0h5M286.5 191.5v5M365.1 176.3h5M367.6 173.8v5M328.4 192.4h5M330.9 189.9v5M344.0 187.4h5M346.5 184.9v5M324.9 189.1h5M327.4 186.6v5M219.7 205.1h5M222.2 202.6v5M239.3 209.6h5M241.8 207.1v5M335.1 196.0h5M337.6 193.5v5M356.7 171.7h5M359.2 169.2v5M355.7 184.3h5M358.2 181.8v5M239.1 216.7h5M241.6 214.2v5M296.0 198.6h5M298.5 196.1v5M206.6 226.9h5M209.1 224.4v5M324.2 193.7h5M326.7 191.2v5M339.4 196.3h5M341.9 193.8v5M311.6 190.7h5M314.1 188.2v5M368.2 173.7h5M370.7 171.2v5M243.0 207.7h5M245.5 205.2v5M242.9 211.1h5M245.4 208.6v5M285.5 205.3h5M288.0 202.8v5M261.9 206.9h5M264.4 204.4v5M352.4 188.8h5M354.9 186.3v5M308.0 195.9h5M310.5 193.4v5M307.4 186.2h5M309.9 183.7v5M280.6 192.2h5M283.1 189.7v5M255.3 194.7h5M257.8 192.2v5M370.0 181.2h5M372.5 178.7v5M382.9 182.9h5M385.4 180.4v5M291.0 198.1h5M293.5 195.6v5M375.7 188.7h5M378.2 186.2v5M319.8 195.9h5M322.3 193.4v5M331.7 184.5h5M334.2 182.0v5M365.6 185.3h5M368.1 182.8v5M295.2 193.3h5M297.7 190.8v5M372.7 181.6h5M375.2 179.1v5M251.7 186.7h5M254.2 184.2v5M269.9 204.7h5M272.4 202.2v5M364.1 183.6h5M366.6 181.1v5M344.5 187.6h5M347.0 185.1v5M305.7 206.9h5M308.2 204.4v5M313.3 206.3h5M315.8 203.8v5M233.2 209.6h5M235.7 207.1v5M345.2 189.5h5M347.7 187.0v5M334.5 176.1h5M337.0 173.6v5M316.2 192.2h5M318.7 189.7v5M261.7 218.7h5M264.2 216.2v5M331.0 177.7h5M333.5 175.2v5M306.1 184.0h5M308.6 181.5v5M244.9 198.1h5M247.4 195.6v5M338.1 176.3h5M340.6 173.8v5M234.5 211.3h5M237.0 208.8v5M291.2 206.0h5M293.7 203.5v5M309.5 197.4h5M312.0 194.9v5M277.4 197.1h5M279.9 194.6v5M248.4 214.5h5M250.9 212.0v5M240.8 191.5h5M243.3 189.0v5M283.7 209.5h5M286.2 207.0v5M328.2 186.1h5M330.7 183.6v5M252.0 195.1h5M254.5 192.6v5M382.8 178.2h5M385.3 175.7v5M294.7 202.4h5M297.2 199.9v5M364.6 188.3h5M367.1 185.8v5M248.9 202.0h5M251.4 199.5v5M323.3 197.0h5M325.8 194.5v5M342.8 194.0h5M345.3 191.5v5M246.9 202.6h5M249.4 200.1v5M274.3 192.0h5M276.8 189.5v5M335.7 184.6h5M338.2 182.1v5M175.4 212.1h5M177.9 209.6v5M180.8 231.6h5M183.3 229.1v5" stroke="#151515" stroke-width="1.05" fill="none"/>
<g fill="none" stroke="#acacac" stroke-width="1.05"><circle cx="286.4" cy="180.9" r="1.8"/><circle cx="203.5" cy="198.5" r="1.8"/><circle cx="294.3" cy="175.7" r="1.8"/><circle cx="296.9" cy="180.7" r="1.8"/><circle cx="256.0" cy="189.3" r="1.8"/><circle cx="209.4" cy="184.1" r="1.8"/><circle cx="233.3" cy="192.7" r="1.8"/><circle cx="254.5" cy="183.6" r="1.8"/><circle cx="234.1" cy="175.4" r="1.8"/><circle cx="231.3" cy="174.1" r="1.8"/><circle cx="341.3" cy="173.2" r="1.8"/><circle cx="203.0" cy="172.0" r="1.8"/><circle cx="248.9" cy="193.5" r="1.8"/><circle cx="294.2" cy="173.0" r="1.8"/><circle cx="262.1" cy="178.5" r="1.8"/><circle cx="288.6" cy="184.0" r="1.8"/><circle cx="240.6" cy="178.4" r="1.8"/><circle cx="288.5" cy="175.3" r="1.8"/><circle cx="278.0" cy="176.6" r="1.8"/><circle cx="273.9" cy="175.5" r="1.8"/><circle cx="294.7" cy="184.5" r="1.8"/><circle cx="296.7" cy="176.2" r="1.8"/><circle cx="302.1" cy="190.7" r="1.8"/><circle cx="308.4" cy="177.9" r="1.8"/><circle cx="280.7" cy="177.4" r="1.8"/><circle cx="294.2" cy="177.6" r="1.8"/><circle cx="293.0" cy="178.9" r="1.8"/><circle cx="237.7" cy="176.4" r="1.8"/><circle cx="223.9" cy="201.8" r="1.8"/><circle cx="227.2" cy="180.4" r="1.8"/><circle cx="226.5" cy="199.7" r="1.8"/><circle cx="235.1" cy="184.6" r="1.8"/><circle cx="330.5" cy="178.2" r="1.8"/><circle cx="314.7" cy="184.0" r="1.8"/><circle cx="269.0" cy="187.4" r="1.8"/><circle cx="300.0" cy="176.6" r="1.8"/><circle cx="246.4" cy="177.8" r="1.8"/><circle cx="337.8" cy="170.7" r="1.8"/><circle cx="244.9" cy="177.9" r="1.8"/><circle cx="208.6" cy="192.3" r="1.8"/><circle cx="248.6" cy="178.6" r="1.8"/><circle cx="262.4" cy="185.3" r="1.8"/><circle cx="345.3" cy="191.9" r="1.8"/><circle cx="235.2" cy="185.2" r="1.8"/><circle cx="214.5" cy="185.3" r="1.8"/><circle cx="202.8" cy="177.9" r="1.8"/><circle cx="336.3" cy="181.5" r="1.8"/><circle cx="322.0" cy="195.3" r="1.8"/><circle cx="205.9" cy="192.1" r="1.8"/><circle cx="285.6" cy="186.2" r="1.8"/><circle cx="249.8" cy="191.4" r="1.8"/><circle cx="244.3" cy="170.9" r="1.8"/><circle cx="292.2" cy="177.6" r="1.8"/><circle cx="279.9" cy="176.4" r="1.8"/><circle cx="224.6" cy="181.8" r="1.8"/><circle cx="233.9" cy="174.1" r="1.8"/><circle cx="281.2" cy="196.3" r="1.8"/><circle cx="203.5" cy="188.5" r="1.8"/><circle cx="206.5" cy="184.7" r="1.8"/><circle cx="346.3" cy="189.1" r="1.8"/><circle cx="306.8" cy="171.6" r="1.8"/><circle cx="267.4" cy="192.5" r="1.8"/><circle cx="291.0" cy="202.4" r="1.8"/><circle cx="320.0" cy="180.7" r="1.8"/><circle cx="284.7" cy="198.8" r="1.8"/><circle cx="237.0" cy="178.9" r="1.8"/><circle cx="302.2" cy="178.2" r="1.8"/><circle cx="242.4" cy="189.9" r="1.8"/><circle cx="226.2" cy="185.3" r="1.8"/><circle cx="307.3" cy="176.7" r="1.8"/><circle cx="285.9" cy="175.8" r="1.8"/><circle cx="202.1" cy="195.3" r="1.8"/><circle cx="315.8" cy="177.4" r="1.8"/><circle cx="288.0" cy="162.6" r="1.8"/><circle cx="162.9" cy="205.8" r="1.8"/><circle cx="175.2" cy="185.2" r="1.8"/><circle cx="172.5" cy="202.2" r="1.8"/><circle cx="191.3" cy="187.9" r="1.8"/></g>
<path d="M275.9 189.2h5M278.4 186.7v5M290.8 197.8h5M293.3 195.3v5M348.9 172.7h5M351.4 170.2v5M254.5 202.2h5M257.0 199.7v5M331.3 184.8h5M333.8 182.3v5M270.1 198.6h5M272.6 196.1v5M284.3 195.9h5M286.8 193.4v5M226.2 209.9h5M228.7 207.4v5M311.8 189.8h5M314.3 187.3v5M207.1 201.4h5M209.6 198.9v5M247.1 206.6h5M249.6 204.1v5M330.0 192.6h5M332.5 190.1v5M306.2 193.8h5M308.7 191.3v5M290.8 210.1h5M293.3 207.6v5M244.4 210.2h5M246.9 207.7v5M201.4 202.2h5M203.9 199.7v5M342.8 176.0h5M345.3 173.5v5M270.2 216.7h5M272.7 214.2v5M267.1 199.2h5M269.6 196.7v5M247.3 201.4h5M249.8 198.9v5M313.0 187.5h5M315.5 185.0v5M265.1 199.0h5M267.6 196.5v5M327.0 196.6h5M329.5 194.1v5M367.1 178.5h5M369.6 176.0v5M254.1 196.9h5M256.6 194.4v5M315.5 178.6h5M318.0 176.1v5M350.1 181.0h5M352.6 178.5v5M379.4 181.0h5M381.9 178.5v5M336.1 173.9h5M338.6 171.4v5M287.8 196.5h5M290.3 194.0v5M337.4 196.2h5M339.9 193.7v5M251.8 209.8h5M254.3 207.3v5M373.7 183.2h5M376.2 180.7v5M252.2 205.6h5M254.7 203.1v5M277.3 207.7h5M279.8 205.2v5M341.5 186.1h5M344.0 183.6v5M367.5 179.0h5M370.0 176.5v5M222.7 215.1h5M225.2 212.6v5M331.7 200.8h5M334.2 198.3v5M337.7 179.8h5M340.2 177.3v5M253.1 192.7h5M255.6 190.2v5M304.3 186.7h5M306.8 184.2v5M235.0 206.2h5M237.5 203.7v5M209.7 210.4h5M212.2 207.9v5M333.2 191.5h5M335.7 189.0v5M327.7 191.8h5M330.2 189.3v5M295.1 203.9h5M297.6 201.4v5M326.2 201.3h5M328.7 198.8v5M330.9 177.8h5M333.4 175.3v5M324.4 191.9h5M326.9 189.4v5M279.2 188.9h5M281.7 186.4v5M308.3 180.4h5M310.8 177.9v5M358.8 186.0h5M361.3 183.5v5M279.3 198.5h5M281.8 196.0v5M336.5 180.3h5M339.0 177.8v5M342.6 185.5h5M345.1 183.0v5M326.5 178.7h5M329.0 176.2v5M331.0 185.1h5M333.5 182.6v5M337.4 184.7h5M339.9 182.2v5M370.0 177.8h5M372.5 175.3v5M333.9 199.4h5M336.4 196.9v5M321.2 192.1h5M323.7 189.6v5M347.5 181.4h5M350.0 178.9v5M325.7 184.6h5M328.2 182.1v5M319.5 190.0h5M322.0 187.5v5M225.3 211.5h5M227.8 209.0v5M294.2 185.7h5M296.7 183.2v5M289.8 191.1h5M292.3 188.6v5M327.7 190.4h5M330.2 187.9v5M273.6 187.0h5M276.1 184.5v5M269.9 196.1h5M272.4 193.6v5M181.7 207.1h5M184.2 204.6v5M182.6 231.9h5M185.1 229.4v5" stroke="#151515" stroke-width="1.05" fill="none"/>
<g fill="none" stroke="#acacac" stroke-width="1.05"><circle cx="283.5" cy="190.5" r="1.8"/><circle cx="240.1" cy="191.6" r="1.8"/><circle cx="210.1" cy="191.0" r="1.8"/><circle cx="233.0" cy="196.2" r="1.8"/><circle cx="287.6" cy="176.5" r="1.8"/><circle cx="249.0" cy="184.2" r="1.8"/><circle cx="290.5" cy="179.7" r="1.8"/><circle cx="285.3" cy="185.3" r="1.8"/><circle cx="232.9" cy="178.7" r="1.8"/><circle cx="274.3" cy="186.9" r="1.8"/><circle cx="217.8" cy="204.0" r="1.8"/><circle cx="205.1" cy="184.1" r="1.8"/><circle cx="214.4" cy="192.0" r="1.8"/><circle cx="311.9" cy="200.5" r="1.8"/><circle cx="249.1" cy="185.4" r="1.8"/><circle cx="295.2" cy="176.3" r="1.8"/><circle cx="308.9" cy="176.3" r="1.8"/><circle cx="248.6" cy="199.0" r="1.8"/><circle cx="308.2" cy="172.6" r="1.8"/><circle cx="202.3" cy="193.0" r="1.8"/><circle cx="220.0" cy="183.2" r="1.8"/><circle cx="286.8" cy="169.5" r="1.8"/><circle cx="334.2" cy="180.4" r="1.8"/><circle cx="244.9" cy="188.1" r="1.8"/><circle cx="243.5" cy="186.8" r="1.8"/><circle cx="302.9" cy="169.8" r="1.8"/><circle cx="316.6" cy="184.5" r="1.8"/><circle cx="196.9" cy="196.5" r="1.8"/><circle cx="227.4" cy="188.1" r="1.8"/><circle cx="204.5" cy="187.3" r="1.8"/><circle cx="324.8" cy="170.9" r="1.8"/><circle cx="247.5" cy="181.8" r="1.8"/><circle cx="304.6" cy="172.5" r="1.8"/><circle cx="269.7" cy="192.6" r="1.8"/><circle cx="314.2" cy="170.3" r="1.8"/><circle cx="253.9" cy="180.4" r="1.8"/><circle cx="215.4" cy="198.6" r="1.8"/><circle cx="273.5" cy="192.5" r="1.8"/><circle cx="226.9" cy="180.5" r="1.8"/><circle cx="313.9" cy="174.9" r="1.8"/><circle cx="325.3" cy="180.2" r="1.8"/><circle cx="208.6" cy="188.2" r="1.8"/><circle cx="238.4" cy="179.4" r="1.8"/><circle cx="202.9" cy="205.7" r="1.8"/><circle cx="320.9" cy="183.3" r="1.8"/><circle cx="343.0" cy="181.1" r="1.8"/><circle cx="213.6" cy="183.9" r="1.8"/><circle cx="207.8" cy="179.8" r="1.8"/><circle cx="311.6" cy="178.4" r="1.8"/><circle cx="213.6" cy="200.4" r="1.8"/><circle cx="234.5" cy="199.8" r="1.8"/><circle cx="256.0" cy="180.8" r="1.8"/><circle cx="288.2" cy="191.8" r="1.8"/><circle cx="208.7" cy="190.5" r="1.8"/><circle cx="215.2" cy="184.5" r="1.8"/><circle cx="315.0" cy="163.6" r="1.8"/><circle cx="195.5" cy="188.6" r="1.8"/><circle cx="280.8" cy="193.7" r="1.8"/><circle cx="311.6" cy="189.3" r="1.8"/><circle cx="345.2" cy="178.0" r="1.8"/><circle cx="290.5" cy="181.7" r="1.8"/><circle cx="303.0" cy="182.7" r="1.8"/><circle cx="297.9" cy="185.3" r="1.8"/><circle cx="277.9" cy="178.9" r="1.8"/><circle cx="274.0" cy="187.4" r="1.8"/><circle cx="228.2" cy="180.5" r="1.8"/><circle cx="207.7" cy="189.8" r="1.8"/><circle cx="230.9" cy="196.0" r="1.8"/><circle cx="279.8" cy="169.1" r="1.8"/><circle cx="294.1" cy="177.6" r="1.8"/><circle cx="271.4" cy="184.8" r="1.8"/><circle cx="246.6" cy="173.5" r="1.8"/><circle cx="197.5" cy="187.4" r="1.8"/><circle cx="155.0" cy="208.2" r="1.8"/><circle cx="161.7" cy="208.5" r="1.8"/><circle cx="177.0" cy="174.7" r="1.8"/><circle cx="173.4" cy="204.0" r="1.8"/><circle cx="192.2" cy="199.6" r="1.8"/></g>
<path d="M243.7 202.7h5M246.2 200.2v5M290.1 190.9h5M292.6 188.4v5M255.7 205.1h5M258.2 202.6v5M332.4 185.0h5M334.9 182.5v5M314.4 186.2h5M316.9 183.7v5M299.8 185.9h5M302.3 183.4v5M274.4 206.2h5M276.9 203.7v5M223.4 213.3h5M225.9 210.8v5M258.5 210.0h5M261.0 207.5v5M320.5 173.2h5M323.0 170.7v5M321.4 194.6h5M323.9 192.1v5M261.7 206.7h5M264.2 204.2v5M226.4 202.7h5M228.9 200.2v5M260.3 199.1h5M262.8 196.6v5M295.8 186.2h5M298.3 183.7v5M324.6 190.7h5M327.1 188.2v5M352.7 195.4h5M355.2 192.9v5M263.5 202.2h5M266.0 199.7v5M251.5 202.9h5M254.0 200.4v5M238.2 207.6h5M240.7 205.1v5M321.6 201.9h5M324.1 199.4v5M352.8 200.2h5M355.3 197.7v5M323.2 196.1h5M325.7 193.6v5M281.8 197.7h5M284.3 195.2v5M235.3 201.6h5M237.8 199.1v5M363.2 193.6h5M365.7 191.1v5M271.3 189.1h5M273.8 186.6v5M319.1 195.4h5M321.6 192.9v5M225.8 208.5h5M228.3 206.0v5M309.6 197.8h5M312.1 195.3v5M368.8 180.1h5M371.3 177.6v5M226.9 198.5h5M229.4 196.0v5M255.0 208.4h5M257.5 205.9v5M243.5 203.0h5M246.0 200.5v5M335.1 199.7h5M337.6 197.2v5M322.4 208.9h5M324.9 206.4v5M263.6 190.8h5M266.1 188.3v5M290.1 198.3h5M292.6 195.8v5M268.3 202.4h5M270.8 199.9v5M319.1 182.0h5M321.6 179.5v5M262.0 200.0h5M264.5 197.5v5M258.3 219.2h5M260.8 216.7v5M339.9 190.3h5M342.4 187.8v5M283.6 203.8h5M286.1 201.3v5M309.9 178.5h5M312.4 176.0v5M336.5 187.6h5M339.0 185.1v5M347.3 199.8h5M349.8 197.3v5M206.1 211.1h5M208.6 208.6v5M203.2 204.2h5M205.7 201.7v5M272.0 193.7h5M274.5 191.2v5M339.7 182.6h5M342.2 180.1v5M300.5 202.4h5M303.0 199.9v5M289.3 193.3h5M291.8 190.8v5M336.1 193.2h5M338.6 190.7v5M258.6 203.4h5M261.1 200.9v5M320.0 190.0h5M322.5 187.5v5M326.5 188.5h5M329.0 186.0v5M280.4 209.9h5M282.9 207.4v5M359.1 186.4h5M361.6 183.9v5M259.8 215.9h5M262.3 213.4v5M286.5 198.8h5M289.0 196.3v5M261.0 203.3h5M263.5 200.8v5M326.9 182.2h5M329.4 179.7v5M331.0 193.7h5M333.5 191.2v5M241.6 204.9h5M244.1 202.4v5M342.7 191.3h5M345.2 188.8v5M232.6 198.7h5M235.1 196.2v5M327.1 183.2h5M329.6 180.7v5M308.8 202.1h5M311.3 199.6v5M320.6 176.4h5M323.1 173.9v5M310.2 202.7h5M312.7 200.2v5M186.2 207.6h5M188.7 205.1v5M193.3 228.3h5M195.8 225.8v5" stroke="#151515" stroke-width="1.05" fill="none"/>
<g fill="none" stroke="#acacac" stroke-width="1.05"><circle cx="268.8" cy="197.0" r="1.8"/><circle cx="252.5" cy="189.8" r="1.8"/><circle cx="237.5" cy="198.4" r="1.8"/><circle cx="307.7" cy="177.2" r="1.8"/><circle cx="342.6" cy="162.4" r="1.8"/><circle cx="310.2" cy="176.5" r="1.8"/><circle cx="201.5" cy="186.8" r="1.8"/><circle cx="316.5" cy="175.6" r="1.8"/><circle cx="299.0" cy="184.3" r="1.8"/><circle cx="220.9" cy="203.2" r="1.8"/><circle cx="210.0" cy="191.3" r="1.8"/><circle cx="206.8" cy="198.5" r="1.8"/><circle cx="209.2" cy="180.1" r="1.8"/><circle cx="277.4" cy="185.1" r="1.8"/><circle cx="260.0" cy="205.3" r="1.8"/><circle cx="220.3" cy="200.5" r="1.8"/><circle cx="307.6" cy="176.9" r="1.8"/><circle cx="257.2" cy="197.2" r="1.8"/><circle cx="288.3" cy="173.7" r="1.8"/><circle cx="276.9" cy="201.0" r="1.8"/><circle cx="222.7" cy="196.3" r="1.8"/><circle cx="238.0" cy="193.3" r="1.8"/><circle cx="229.9" cy="195.2" r="1.8"/><circle cx="211.8" cy="168.4" r="1.8"/><circle cx="315.9" cy="170.5" r="1.8"/><circle cx="223.2" cy="189.3" r="1.8"/><circle cx="318.6" cy="183.2" r="1.8"/><circle cx="314.0" cy="174.8" r="1.8"/><circle cx="252.6" cy="192.0" r="1.8"/><circle cx="265.9" cy="202.9" r="1.8"/><circle cx="217.6" cy="182.3" r="1.8"/><circle cx="343.6" cy="176.2" r="1.8"/><circle cx="292.5" cy="181.4" r="1.8"/><circle cx="229.0" cy="182.1" r="1.8"/><circle cx="282.4" cy="198.1" r="1.8"/><circle cx="276.1" cy="187.2" r="1.8"/><circle cx="284.1" cy="193.2" r="1.8"/><circle cx="243.9" cy="190.2" r="1.8"/><circle cx="288.2" cy="174.1" r="1.8"/><circle cx="248.5" cy="183.6" r="1.8"/><circle cx="206.2" cy="177.9" r="1.8"/><circle cx="216.0" cy="177.4" r="1.8"/><circle cx="335.8" cy="181.7" r="1.8"/><circle cx="255.2" cy="185.3" r="1.8"/><circle cx="245.1" cy="200.5" r="1.8"/><circle cx="255.4" cy="185.2" r="1.8"/><circle cx="232.6" cy="193.7" r="1.8"/><circle cx="286.7" cy="191.1" r="1.8"/><circle cx="255.9" cy="185.0" r="1.8"/><circle cx="199.1" cy="198.1" r="1.8"/><circle cx="290.6" cy="173.4" r="1.8"/><circle cx="245.9" cy="182.1" r="1.8"/><circle cx="201.6" cy="185.0" r="1.8"/><circle cx="336.6" cy="175.7" r="1.8"/><circle cx="296.5" cy="179.5" r="1.8"/><circle cx="254.8" cy="195.8" r="1.8"/><circle cx="237.0" cy="170.8" r="1.8"/><circle cx="318.3" cy="183.2" r="1.8"/><circle cx="267.4" cy="187.1" r="1.8"/><circle cx="273.5" cy="178.6" r="1.8"/><circle cx="267.0" cy="197.0" r="1.8"/><circle cx="218.2" cy="192.7" r="1.8"/><circle cx="302.5" cy="192.3" r="1.8"/><circle cx="290.5" cy="175.1" r="1.8"/><circle cx="310.8" cy="188.8" r="1.8"/><circle cx="288.0" cy="181.1" r="1.8"/><circle cx="292.8" cy="192.8" r="1.8"/><circle cx="282.9" cy="191.6" r="1.8"/><circle cx="299.1" cy="190.6" r="1.8"/><circle cx="275.4" cy="198.9" r="1.8"/><circle cx="228.2" cy="208.2" r="1.8"/><circle cx="294.8" cy="180.3" r="1.8"/><circle cx="273.8" cy="185.8" r="1.8"/><circle cx="162.9" cy="181.2" r="1.8"/><circle cx="167.1" cy="208.2" r="1.8"/><circle cx="178.8" cy="187.0" r="1.8"/><circle cx="185.1" cy="177.6" r="1.8"/><circle cx="185.1" cy="195.1" r="1.8"/></g>
<path d="M263.2 210.4h5M265.7 207.9v5M251.2 197.8h5M253.7 195.3v5M317.3 195.1h5M319.8 192.6v5M259.1 195.9h5M261.6 193.4v5M300.0 188.7h5M302.5 186.2v5M313.1 197.7h5M315.6 195.2v5M233.1 198.1h5M235.6 195.6v5M356.1 193.2h5M358.6 190.7v5M205.4 206.8h5M207.9 204.3v5M246.9 208.2h5M249.4 205.7v5M360.4 183.8h5M362.9 181.3v5M337.8 188.4h5M340.3 185.9v5M296.6 185.8h5M299.1 183.3v5M294.4 199.1h5M296.9 196.6v5M274.7 212.6h5M277.2 210.1v5M334.0 183.6h5M336.5 181.1v5M274.2 215.4h5M276.7 212.9v5M286.9 193.7h5M289.4 191.2v5M282.7 206.2h5M285.2 203.7v5M196.8 217.7h5M199.3 215.2v5M249.0 199.9h5M251.5 197.4v5M339.5 196.3h5M342.0 193.8v5M356.4 186.0h5M358.9 183.5v5M214.3 212.6h5M216.8 210.1v5M260.4 209.8h5M262.9 207.3v5M247.1 205.9h5M249.6 203.4v5M282.2 195.5h5M284.7 193.0v5M352.0 187.8h5M354.5 185.3v5M330.2 179.0h5M332.7 176.5v5M215.5 199.4h5M218.0 196.9v5M242.5 202.5h5M245.0 200.0v5M253.0 200.5h5M255.5 198.0v5M309.7 186.6h5M312.2 184.1v5M302.4 198.9h5M304.9 196.4v5M286.9 198.1h5M289.4 195.6v5M344.3 188.5h5M346.8 186.0v5M238.7 199.3h5M241.2 196.8v5M355.3 188.0h5M357.8 185.5v5M316.2 188.0h5M318.7 185.5v5M280.0 187.4h5M282.5 184.9v5M337.2 184.9h5M339.7 182.4v5M331.6 182.6h5M334.1 180.1v5M272.1 207.8h5M274.6 205.3v5M336.0 190.3h5M338.5 187.8v5M297.5 188.3h5M300.0 185.8v5M332.7 192.1h5M335.2 189.6v5M375.2 187.0h5M377.7 184.5v5M235.0 188.7h5M237.5 186.2v5M298.7 195.2h5M301.2 192.7v5M275.9 204.9h5M278.4 202.4v5M341.6 184.0h5M344.1 181.5v5M323.4 187.1h5M325.9 184.6v5M385.6 187.0h5M388.1 184.5v5M315.7 173.9h5M318.2 171.4v5M330.6 188.1h5M333.1 185.6v5M293.2 194.8h5M295.7 192.3v5M248.5 202.7h5M251.0 200.2v5M267.5 182.7h5M270.0 180.2v5M337.7 182.1h5M340.2 179.6v5M285.1 210.8h5M287.6 208.3v5M266.0 213.8h5M268.5 211.3v5M259.6 200.7h5M262.1 198.2v5M322.2 186.4h5M324.7 183.9v5M260.8 192.9h5M263.3 190.4v5M254.4 200.2h5M256.9 197.7v5M232.5 214.2h5M235.0 211.7v5M301.0 194.8h5M303.5 192.3v5M356.9 175.8h5M359.4 173.3v5M223.2 201.3h5M225.7 198.8v5M353.9 185.0h5M356.4 182.5v5M391.5 186.0h5M394.0 183.5v5M190.6 205.8h5M193.1 203.3v5M194.2 216.6h5M196.7 214.1v5" stroke="#151515" stroke-width="1.05" fill="none"/>
<path d="M65.9 203.6L443.1 168.6" stroke="#222" stroke-width="1.25" fill="none"/>
<path d="M65.9 229.7L443.1 173.8" stroke="#222" stroke-width="1.5" stroke-dasharray="6.3 5.15" fill="none"/>
<path d="M80.3 162.2H76.3V226.8H80.3" stroke="#222" stroke-width="1.2" fill="none"/>
<path d="M80.3 220.4H83.4" stroke="#222" stroke-width="1.2" fill="none"/>
<path d="M83.4 220.4V265.0" stroke="#222" stroke-width="1.2" stroke-dasharray="6.4 4.2 13 4.5 13 4" fill="none"/>
<path d="M83.4 265.0H80.3" stroke="#222" stroke-width="1.2" fill="none"/>
<rect x="65.9" y="151.7" width="377.2" height="124.4" fill="none" stroke="#222" stroke-width="1.3"/>
<path d="M63.900000000000006 162.4H65.9" stroke="#222" stroke-width="1.2"/>
<text transform="translate(61 166.8) scale(1.01 1)" font-size="9.45" text-anchor="end" fill="#262626">0.22</text>
<path d="M63.900000000000006 188.0H65.9" stroke="#222" stroke-width="1.2"/>
<text transform="translate(61 192.4) scale(1.01 1)" font-size="9.45" text-anchor="end" fill="#262626">0.18</text>
<path d="M63.900000000000006 213.6H65.9" stroke="#222" stroke-width="1.2"/>
<text transform="translate(61 218.0) scale(1.01 1)" font-size="9.45" text-anchor="end" fill="#262626">0.14</text>
<path d="M63.900000000000006 239.2H65.9" stroke="#222" stroke-width="1.2"/>
<text transform="translate(61 243.6) scale(1.01 1)" font-size="9.45" text-anchor="end" fill="#262626">0.10</text>
<path d="M63.900000000000006 264.8H65.9" stroke="#222" stroke-width="1.2"/>
<text transform="translate(61 269.2) scale(1.01 1)" font-size="9.45" text-anchor="end" fill="#262626">0.06</text>
<text transform="translate(29 214.3) rotate(-90)" font-size="14" text-anchor="middle" fill="#222">WSA</text>
<text transform="translate(31.7 163.2) scale(1.12 1)" font-size="16.8" text-anchor="end" fill="#111">NW</text>
<path d="M65.9 311.5H443.1M65.9 337.1H443.1M65.9 362.7H443.1M65.9 388.3H443.1M65.9 413.9H443.1M80.3 300.8V425.2M150.0 300.8V425.2M219.7 300.8V425.2M289.5 300.8V425.2M359.2 300.8V425.2M428.9 300.8V425.2" stroke="#cfcfcf" stroke-width="0.95" stroke-dasharray="2.1 3.65" fill="none"/>
<g fill="none" stroke="#acacac" stroke-width="1.05"><circle cx="249.2" cy="323.3" r="1.8"/><circle cx="305.4" cy="333.9" r="1.8"/><circle cx="285.9" cy="324.8" r="1.8"/><circle cx="296.6" cy="337.1" r="1.8"/><circle cx="265.3" cy="332.6" r="1.8"/><circle cx="284.2" cy="328.8" r="1.8"/><circle cx="264.3" cy="339.4" r="1.8"/><circle cx="315.4" cy="328.8" r="1.8"/><circle cx="308.7" cy="321.1" r="1.8"/><circle cx="308.7" cy="335.0" r="1.8"/><circle cx="267.1" cy="326.7" r="1.8"/><circle cx="259.7" cy="330.9" r="1.8"/><circle cx="322.4" cy="329.8" r="1.8"/><circle cx="342.2" cy="323.8" r="1.8"/><circle cx="273.6" cy="343.4" r="1.8"/><circle cx="313.1" cy="330.7" r="1.8"/><circle cx="297.8" cy="332.9" r="1.8"/><circle cx="276.8" cy="335.5" r="1.8"/><circle cx="254.2" cy="326.9" r="1.8"/><circle cx="271.3" cy="342.0" r="1.8"/><circle cx="251.6" cy="335.3" r="1.8"/><circle cx="271.9" cy="341.8" r="1.8"/><circle cx="282.0" cy="337.9" r="1.8"/><circle cx="330.5" cy="323.7" r="1.8"/><circle cx="305.5" cy="326.1" r="1.8"/><circle cx="281.2" cy="338.6" r="1.8"/><circle cx="298.5" cy="324.6" r="1.8"/><circle cx="282.1" cy="331.2" r="1.8"/><circle cx="337.5" cy="327.1" r="1.8"/><circle cx="256.1" cy="336.5" r="1.8"/><circle cx="308.2" cy="330.8" r="1.8"/><circle cx="267.0" cy="337.1" r="1.8"/><circle cx="292.2" cy="333.9" r="1.8"/><circle cx="253.5" cy="341.1" r="1.8"/><circle cx="264.8" cy="337.8" r="1.8"/><circle cx="266.8" cy="330.1" r="1.8"/><circle cx="321.3" cy="322.6" r="1.8"/><circle cx="291.5" cy="336.2" r="1.8"/><circle cx="311.8" cy="344.2" r="1.8"/><circle cx="320.3" cy="326.9" r="1.8"/><circle cx="276.2" cy="327.4" r="1.8"/><circle cx="327.0" cy="334.9" r="1.8"/><circle cx="302.9" cy="339.4" r="1.8"/><circle cx="255.6" cy="341.1" r="1.8"/><circle cx="312.7" cy="333.3" r="1.8"/><circle cx="354.7" cy="331.5" r="1.8"/><circle cx="285.6" cy="331.1" r="1.8"/><circle cx="317.5" cy="329.7" r="1.8"/><circle cx="305.2" cy="339.4" r="1.8"/><circle cx="267.7" cy="338.3" r="1.8"/><circle cx="310.8" cy="334.2" r="1.8"/><circle cx="311.9" cy="331.6" r="1.8"/><circle cx="266.8" cy="332.0" r="1.8"/><circle cx="344.8" cy="336.4" r="1.8"/><circle cx="318.4" cy="325.5" r="1.8"/><circle cx="299.9" cy="323.1" r="1.8"/><circle cx="286.2" cy="338.7" r="1.8"/><circle cx="286.6" cy="326.0" r="1.8"/><circle cx="355.2" cy="336.3" r="1.8"/><circle cx="282.6" cy="334.8" r="1.8"/><circle cx="273.3" cy="337.6" r="1.8"/><circle cx="328.6" cy="322.5" r="1.8"/><circle cx="265.6" cy="347.2" r="1.8"/><circle cx="348.2" cy="334.0" r="1.8"/><circle cx="332.0" cy="330.6" r="1.8"/><circle cx="315.1" cy="335.4" r="1.8"/><circle cx="299.1" cy="332.8" r="1.8"/><circle cx="310.0" cy="337.6" r="1.8"/><circle cx="269.5" cy="333.7" r="1.8"/><circle cx="317.8" cy="323.9" r="1.8"/><circle cx="280.1" cy="338.5" r="1.8"/><circle cx="338.2" cy="342.2" r="1.8"/><circle cx="273.1" cy="329.9" r="1.8"/><circle cx="344.3" cy="326.4" r="1.8"/><circle cx="275.1" cy="338.4" r="1.8"/><circle cx="276.0" cy="313.0" r="1.8"/><circle cx="204.9" cy="342.0" r="1.8"/><circle cx="219.8" cy="335.2" r="1.8"/><circle cx="238.7" cy="334.3" r="1.8"/><circle cx="242.3" cy="339.7" r="1.8"/></g>
<path d="M356.6 334.0h5M359.1 331.5v5M277.9 345.3h5M280.4 342.8v5M264.4 347.4h5M266.9 344.9v5M277.9 343.1h5M280.4 340.6v5M251.9 352.1h5M254.4 349.6v5M302.2 336.9h5M304.7 334.4v5M363.5 334.9h5M366.0 332.4v5M273.9 345.7h5M276.4 343.2v5M350.7 346.4h5M353.2 343.9v5M318.0 334.8h5M320.5 332.3v5M337.8 339.0h5M340.3 336.5v5M305.4 347.2h5M307.9 344.7v5M330.4 338.4h5M332.9 335.9v5M312.8 335.6h5M315.3 333.1v5M282.7 348.3h5M285.2 345.8v5M364.2 331.8h5M366.7 329.3v5M304.0 333.6h5M306.5 331.1v5M357.8 327.0h5M360.3 324.5v5M364.9 320.3h5M367.4 317.8v5M330.7 339.9h5M333.2 337.4v5M272.2 341.9h5M274.7 339.4v5M344.7 347.0h5M347.2 344.5v5M339.0 339.6h5M341.5 337.1v5M315.2 342.0h5M317.7 339.5v5M324.6 336.0h5M327.1 333.5v5M365.7 318.9h5M368.2 316.4v5M242.0 366.7h5M244.5 364.2v5M347.2 345.4h5M349.7 342.9v5M311.6 340.6h5M314.1 338.1v5M351.3 340.1h5M353.8 337.6v5M344.1 322.6h5M346.6 320.1v5M343.7 332.6h5M346.2 330.1v5M308.7 341.9h5M311.2 339.4v5M372.3 316.8h5M374.8 314.3v5M364.5 342.8h5M367.0 340.3v5M338.2 339.8h5M340.7 337.3v5M329.2 342.1h5M331.7 339.6v5M303.0 340.8h5M305.5 338.3v5M353.4 338.8h5M355.9 336.3v5M324.7 334.1h5M327.2 331.6v5M283.4 355.4h5M285.9 352.9v5M319.0 336.4h5M321.5 333.9v5M265.6 354.6h5M268.1 352.1v5M273.1 340.6h5M275.6 338.1v5M306.8 353.1h5M309.3 350.6v5M365.2 328.1h5M367.7 325.6v5M275.9 353.9h5M278.4 351.4v5M321.2 347.7h5M323.7 345.2v5M311.7 340.1h5M314.2 337.6v5M330.0 345.1h5M332.5 342.6v5M337.5 341.2h5M340.0 338.7v5M261.7 359.6h5M264.2 357.1v5M263.9 358.4h5M266.4 355.9v5M335.6 336.0h5M338.1 333.5v5M246.4 351.0h5M248.9 348.5v5M299.6 342.4h5M302.1 339.9v5M351.8 332.1h5M354.3 329.6v5M378.5 320.5h5M381.0 318.0v5M280.2 352.3h5M282.7 349.8v5M276.1 352.9h5M278.6 350.4v5M303.2 346.1h5M305.7 343.6v5M246.1 354.6h5M248.6 352.1v5M358.2 341.1h5M360.7 338.6v5M325.3 339.3h5M327.8 336.8v5M309.3 349.7h5M311.8 347.2v5M326.6 335.6h5M329.1 333.1v5M358.3 335.4h5M360.8 332.9v5M320.4 335.1h5M322.9 332.6v5M311.8 342.5h5M314.3 340.0v5M314.9 346.3h5M317.4 343.8v5M260.0 345.7h5M262.5 343.2v5M298.2 340.0h5M300.7 337.5v5M325.1 341.0h5M327.6 338.5v5M349.6 340.9h5M352.1 338.4v5M339.1 342.7h5M341.6 340.2v5M282.3 343.4h5M284.8 340.9v5M278.8 349.2h5M281.3 346.7v5M263.9 353.5h5M266.4 351.0v5M231.7 357.1h5M234.2 354.6v5" stroke="#151515" stroke-width="1.05" fill="none"/>
<g fill="none" stroke="#acacac" stroke-width="1.05"><circle cx="301.8" cy="336.0" r="1.8"/><circle cx="281.1" cy="333.4" r="1.8"/><circle cx="285.8" cy="337.1" r="1.8"/><circle cx="293.8" cy="323.7" r="1.8"/><circle cx="344.0" cy="324.3" r="1.8"/><circle cx="274.3" cy="332.8" r="1.8"/><circle cx="312.5" cy="337.2" r="1.8"/><circle cx="295.4" cy="336.2" r="1.8"/><circle cx="298.4" cy="329.4" r="1.8"/><circle cx="326.3" cy="328.7" r="1.8"/><circle cx="314.4" cy="336.1" r="1.8"/><circle cx="288.9" cy="342.3" r="1.8"/><circle cx="316.8" cy="319.4" r="1.8"/><circle cx="333.6" cy="326.9" r="1.8"/><circle cx="308.4" cy="327.0" r="1.8"/><circle cx="247.6" cy="328.7" r="1.8"/><circle cx="320.3" cy="333.7" r="1.8"/><circle cx="324.8" cy="329.8" r="1.8"/><circle cx="288.9" cy="335.8" r="1.8"/><circle cx="295.8" cy="345.3" r="1.8"/><circle cx="284.3" cy="331.0" r="1.8"/><circle cx="297.7" cy="332.5" r="1.8"/><circle cx="287.1" cy="327.3" r="1.8"/><circle cx="279.0" cy="327.2" r="1.8"/><circle cx="317.8" cy="336.6" r="1.8"/><circle cx="335.7" cy="322.2" r="1.8"/><circle cx="293.1" cy="333.6" r="1.8"/><circle cx="291.0" cy="331.2" r="1.8"/><circle cx="330.3" cy="332.0" r="1.8"/><circle cx="325.8" cy="332.9" r="1.8"/><circle cx="287.7" cy="341.9" r="1.8"/><circle cx="279.2" cy="327.6" r="1.8"/><circle cx="305.6" cy="335.2" r="1.8"/><circle cx="269.5" cy="331.5" r="1.8"/><circle cx="299.4" cy="325.5" r="1.8"/><circle cx="313.3" cy="337.0" r="1.8"/><circle cx="266.6" cy="334.4" r="1.8"/><circle cx="274.7" cy="338.0" r="1.8"/><circle cx="244.7" cy="332.4" r="1.8"/><circle cx="294.7" cy="342.9" r="1.8"/><circle cx="315.3" cy="326.6" r="1.8"/><circle cx="250.4" cy="339.3" r="1.8"/><circle cx="339.5" cy="329.1" r="1.8"/><circle cx="324.0" cy="336.8" r="1.8"/><circle cx="306.6" cy="332.0" r="1.8"/><circle cx="312.3" cy="323.4" r="1.8"/><circle cx="299.4" cy="337.8" r="1.8"/><circle cx="296.7" cy="329.7" r="1.8"/><circle cx="317.2" cy="333.6" r="1.8"/><circle cx="250.3" cy="333.8" r="1.8"/><circle cx="315.5" cy="331.8" r="1.8"/><circle cx="351.2" cy="341.6" r="1.8"/><circle cx="319.2" cy="343.5" r="1.8"/><circle cx="265.3" cy="347.4" r="1.8"/><circle cx="245.0" cy="332.1" r="1.8"/><circle cx="299.2" cy="334.4" r="1.8"/><circle cx="328.0" cy="328.8" r="1.8"/><circle cx="254.4" cy="332.0" r="1.8"/><circle cx="308.7" cy="335.0" r="1.8"/><circle cx="319.0" cy="325.6" r="1.8"/><circle cx="295.8" cy="342.2" r="1.8"/><circle cx="323.8" cy="327.1" r="1.8"/><circle cx="285.6" cy="332.0" r="1.8"/><circle cx="255.5" cy="347.4" r="1.8"/><circle cx="285.4" cy="335.0" r="1.8"/><circle cx="251.7" cy="329.4" r="1.8"/><circle cx="274.3" cy="335.2" r="1.8"/><circle cx="300.1" cy="333.0" r="1.8"/><circle cx="293.7" cy="329.1" r="1.8"/><circle cx="275.1" cy="335.1" r="1.8"/><circle cx="304.1" cy="328.0" r="1.8"/><circle cx="305.9" cy="324.2" r="1.8"/><circle cx="321.0" cy="328.9" r="1.8"/><circle cx="334.3" cy="327.3" r="1.8"/><circle cx="245.0" cy="334.1" r="1.8"/><circle cx="174.9" cy="339.7" r="1.8"/><circle cx="204.9" cy="346.9" r="1.8"/><circle cx="225.2" cy="333.4" r="1.8"/><circle cx="242.3" cy="328.9" r="1.8"/><circle cx="234.2" cy="339.7" r="1.8"/></g>
<path d="M259.8 357.7h5M262.3 355.2v5M342.0 328.6h5M344.5 326.1v5M303.8 337.9h5M306.3 335.4v5M269.7 361.6h5M272.2 359.1v5M354.9 319.6h5M357.4 317.1v5M298.6 345.3h5M301.1 342.8v5M280.5 342.1h5M283.0 339.6v5M309.3 339.3h5M311.8 336.8v5M341.2 334.1h5M343.7 331.6v5M284.8 332.9h5M287.3 330.4v5M310.3 335.1h5M312.8 332.6v5M332.2 336.3h5M334.7 333.8v5M267.9 360.3h5M270.4 357.8v5M313.9 340.3h5M316.4 337.8v5M270.3 355.9h5M272.8 353.4v5M300.8 350.6h5M303.3 348.1v5M319.9 335.1h5M322.4 332.6v5M248.2 352.3h5M250.7 349.8v5M353.1 335.3h5M355.6 332.8v5M347.6 324.5h5M350.1 322.0v5M305.0 337.3h5M307.5 334.8v5M364.0 330.8h5M366.5 328.3v5M273.8 354.4h5M276.3 351.9v5M294.0 343.7h5M296.5 341.2v5M261.4 345.4h5M263.9 342.9v5M314.1 355.8h5M316.6 353.3v5M352.9 326.9h5M355.4 324.4v5M346.1 338.7h5M348.6 336.2v5M318.7 351.8h5M321.2 349.3v5M329.1 334.6h5M331.6 332.1v5M340.0 339.6h5M342.5 337.1v5M378.4 327.3h5M380.9 324.8v5M323.3 334.0h5M325.8 331.5v5M325.8 332.1h5M328.3 329.6v5M287.2 332.5h5M289.7 330.0v5M344.7 336.8h5M347.2 334.3v5M333.2 335.7h5M335.7 333.2v5M358.5 326.5h5M361.0 324.0v5M241.7 365.0h5M244.2 362.5v5M299.4 352.6h5M301.9 350.1v5M315.5 350.6h5M318.0 348.1v5M304.8 349.5h5M307.3 347.0v5M330.2 335.0h5M332.7 332.5v5M294.0 348.6h5M296.5 346.1v5M335.8 336.6h5M338.3 334.1v5M280.1 355.9h5M282.6 353.4v5M272.4 348.2h5M274.9 345.7v5M281.8 349.0h5M284.3 346.5v5M337.3 332.5h5M339.8 330.0v5M241.9 348.6h5M244.4 346.1v5M342.7 329.5h5M345.2 327.0v5M296.7 348.7h5M299.2 346.2v5M303.9 337.4h5M306.4 334.9v5M297.5 342.1h5M300.0 339.6v5M255.3 350.8h5M257.8 348.3v5M352.6 333.1h5M355.1 330.6v5M312.6 337.0h5M315.1 334.5v5M346.8 338.2h5M349.3 335.7v5M319.5 337.6h5M322.0 335.1v5M332.9 338.3h5M335.4 335.8v5M302.3 358.6h5M304.8 356.1v5M300.1 330.5h5M302.6 328.0v5M366.5 317.4h5M369.0 314.9v5M335.9 341.0h5M338.4 338.5v5M340.0 345.9h5M342.5 343.4v5M321.2 349.5h5M323.7 347.0v5M334.9 340.0h5M337.4 337.5v5M366.2 328.3h5M368.7 325.8v5M309.9 348.5h5M312.4 346.0v5M318.5 344.3h5M321.0 341.8v5M294.1 339.6h5M296.6 337.1v5M307.4 346.4h5M309.9 343.9v5M322.0 325.9h5M324.5 323.4v5M257.2 356.1h5M259.7 353.6v5M333.2 340.0h5M335.7 337.5v5M330.0 326.3h5M332.5 323.8v5M350.6 328.6h5M353.1 326.1v5M333.2 343.7h5M335.7 341.2v5M238.0 354.9h5M240.5 352.4v5" stroke="#151515" stroke-width="1.05" fill="none"/>
<g fill="none" stroke="#acacac" stroke-width="1.05"><circle cx="297.4" cy="335.6" r="1.8"/><circle cx="304.7" cy="330.1" r="1.8"/><circle cx="278.4" cy="340.9" r="1.8"/><circle cx="286.5" cy="337.2" r="1.8"/><circle cx="301.8" cy="330.9" r="1.8"/><circle cx="293.5" cy="330.9" r="1.8"/><circle cx="302.4" cy="339.2" r="1.8"/><circle cx="259.6" cy="324.0" r="1.8"/><circle cx="295.5" cy="328.2" r="1.8"/><circle cx="251.9" cy="329.9" r="1.8"/><circle cx="271.4" cy="336.3" r="1.8"/><circle cx="245.8" cy="323.8" r="1.8"/><circle cx="318.5" cy="332.0" r="1.8"/><circle cx="248.3" cy="333.2" r="1.8"/><circle cx="336.6" cy="326.8" r="1.8"/><circle cx="271.9" cy="341.7" r="1.8"/><circle cx="264.1" cy="335.4" r="1.8"/><circle cx="325.0" cy="337.7" r="1.8"/><circle cx="302.8" cy="326.4" r="1.8"/><circle cx="269.0" cy="330.2" r="1.8"/><circle cx="334.3" cy="325.3" r="1.8"/><circle cx="313.0" cy="329.0" r="1.8"/><circle cx="279.7" cy="331.4" r="1.8"/><circle cx="256.5" cy="339.9" r="1.8"/><circle cx="268.6" cy="335.1" r="1.8"/><circle cx="344.0" cy="327.2" r="1.8"/><circle cx="333.5" cy="320.3" r="1.8"/><circle cx="263.9" cy="338.1" r="1.8"/><circle cx="338.6" cy="329.7" r="1.8"/><circle cx="282.2" cy="335.3" r="1.8"/><circle cx="357.4" cy="327.0" r="1.8"/><circle cx="281.6" cy="334.1" r="1.8"/><circle cx="305.9" cy="333.9" r="1.8"/><circle cx="292.7" cy="336.6" r="1.8"/><circle cx="279.0" cy="326.6" r="1.8"/><circle cx="293.8" cy="336.6" r="1.8"/><circle cx="301.1" cy="330.9" r="1.8"/><circle cx="367.5" cy="325.2" r="1.8"/><circle cx="307.8" cy="320.3" r="1.8"/><circle cx="294.1" cy="331.4" r="1.8"/><circle cx="329.4" cy="329.7" r="1.8"/><circle cx="294.8" cy="331.9" r="1.8"/><circle cx="318.7" cy="328.5" r="1.8"/><circle cx="302.6" cy="326.3" r="1.8"/><circle cx="314.0" cy="333.7" r="1.8"/><circle cx="302.4" cy="335.5" r="1.8"/><circle cx="302.8" cy="328.4" r="1.8"/><circle cx="332.3" cy="331.0" r="1.8"/><circle cx="296.2" cy="329.7" r="1.8"/><circle cx="332.0" cy="342.9" r="1.8"/><circle cx="312.9" cy="326.6" r="1.8"/><circle cx="298.6" cy="333.6" r="1.8"/><circle cx="281.2" cy="332.6" r="1.8"/><circle cx="288.1" cy="335.3" r="1.8"/><circle cx="250.7" cy="331.8" r="1.8"/><circle cx="255.4" cy="340.2" r="1.8"/><circle cx="290.9" cy="334.1" r="1.8"/><circle cx="308.1" cy="328.4" r="1.8"/><circle cx="309.7" cy="327.7" r="1.8"/><circle cx="302.4" cy="330.6" r="1.8"/><circle cx="276.5" cy="342.5" r="1.8"/><circle cx="261.0" cy="335.2" r="1.8"/><circle cx="288.7" cy="335.3" r="1.8"/><circle cx="248.6" cy="334.2" r="1.8"/><circle cx="339.2" cy="325.5" r="1.8"/><circle cx="342.0" cy="333.2" r="1.8"/><circle cx="282.1" cy="327.3" r="1.8"/><circle cx="277.8" cy="330.3" r="1.8"/><circle cx="274.8" cy="330.6" r="1.8"/><circle cx="296.7" cy="334.5" r="1.8"/><circle cx="250.4" cy="334.1" r="1.8"/><circle cx="267.6" cy="321.4" r="1.8"/><circle cx="343.0" cy="326.5" r="1.8"/><circle cx="322.1" cy="335.8" r="1.8"/><circle cx="284.8" cy="335.9" r="1.8"/><circle cx="174.9" cy="344.5" r="1.8"/><circle cx="209.6" cy="342.4" r="1.8"/><circle cx="227.9" cy="334.3" r="1.8"/><circle cx="229.4" cy="342.0" r="1.8"/></g>
<path d="M260.2 353.6h5M262.7 351.1v5M315.8 343.2h5M318.3 340.7v5M346.9 342.3h5M349.4 339.8v5M339.1 331.6h5M341.6 329.1v5M268.0 353.7h5M270.5 351.2v5M321.4 350.4h5M323.9 347.9v5M299.4 353.9h5M301.9 351.4v5M284.9 344.6h5M287.4 342.1v5M289.6 343.3h5M292.1 340.8v5M273.8 347.0h5M276.3 344.5v5M265.7 352.4h5M268.2 349.9v5M314.3 340.3h5M316.8 337.8v5M351.9 337.4h5M354.4 334.9v5M279.9 354.6h5M282.4 352.1v5M319.6 344.9h5M322.1 342.4v5M351.4 331.1h5M353.9 328.6v5M303.5 346.4h5M306.0 343.9v5M341.7 333.2h5M344.2 330.7v5M366.8 331.0h5M369.3 328.5v5M350.2 341.1h5M352.7 338.6v5M342.1 330.4h5M344.6 327.9v5M317.1 343.9h5M319.6 341.4v5M348.3 342.4h5M350.8 339.9v5M266.9 347.0h5M269.4 344.5v5M309.6 339.9h5M312.1 337.4v5M326.8 347.1h5M329.3 344.6v5M344.9 340.9h5M347.4 338.4v5M305.6 337.3h5M308.1 334.8v5M332.1 332.6h5M334.6 330.1v5M332.5 350.1h5M335.0 347.6v5M281.9 345.3h5M284.4 342.8v5M340.4 340.6h5M342.9 338.1v5M343.0 335.8h5M345.5 333.3v5M314.5 347.0h5M317.0 344.5v5M320.7 348.7h5M323.2 346.2v5M302.3 347.0h5M304.8 344.5v5M347.8 335.5h5M350.3 333.0v5M302.6 342.8h5M305.1 340.3v5M329.6 340.3h5M332.1 337.8v5M244.9 358.1h5M247.4 355.6v5M320.1 347.7h5M322.6 345.2v5M362.4 333.9h5M364.9 331.4v5M325.7 339.5h5M328.2 337.0v5M330.9 334.6h5M333.4 332.1v5M317.0 340.1h5M319.5 337.6v5M311.9 339.5h5M314.4 337.0v5M312.1 350.5h5M314.6 348.0v5M316.1 331.6h5M318.6 329.1v5M285.9 350.3h5M288.4 347.8v5M249.3 355.9h5M251.8 353.4v5M348.7 322.7h5M351.2 320.2v5M318.6 340.1h5M321.1 337.6v5M309.5 353.1h5M312.0 350.6v5M334.6 341.3h5M337.1 338.8v5M312.3 345.4h5M314.8 342.9v5M323.9 341.9h5M326.4 339.4v5M312.6 339.0h5M315.1 336.5v5M348.5 338.2h5M351.0 335.7v5M377.4 332.9h5M379.9 330.4v5M336.3 336.0h5M338.8 333.5v5M334.1 334.0h5M336.6 331.5v5M348.1 322.9h5M350.6 320.4v5M297.1 348.4h5M299.6 345.9v5M310.8 353.9h5M313.3 351.4v5M276.3 351.4h5M278.8 348.9v5M308.7 340.7h5M311.2 338.2v5M322.0 335.6h5M324.5 333.1v5M254.2 349.7h5M256.7 347.2v5M327.5 345.1h5M330.0 342.6v5M323.6 338.1h5M326.1 335.6v5M324.0 337.6h5M326.5 335.1v5M353.0 322.3h5M355.5 319.8v5M296.0 352.3h5M298.5 349.8v5M357.2 343.7h5M359.7 341.2v5M359.3 343.5h5M361.8 341.0v5M326.9 339.3h5M329.4 336.8v5M303.4 345.6h5M305.9 343.1v5M248.7 353.5h5M251.2 351.0v5M240.7 355.8h5M243.2 353.3v5" stroke="#151515" stroke-width="1.05" fill="none"/>
<g fill="none" stroke="#acacac" stroke-width="1.05"><circle cx="342.7" cy="323.9" r="1.8"/><circle cx="322.7" cy="334.5" r="1.8"/><circle cx="285.3" cy="341.3" r="1.8"/><circle cx="252.7" cy="335.3" r="1.8"/><circle cx="276.7" cy="341.9" r="1.8"/><circle cx="310.0" cy="321.0" r="1.8"/><circle cx="285.7" cy="328.0" r="1.8"/><circle cx="261.7" cy="326.5" r="1.8"/><circle cx="298.5" cy="331.0" r="1.8"/><circle cx="282.0" cy="337.5" r="1.8"/><circle cx="324.8" cy="332.8" r="1.8"/><circle cx="244.9" cy="338.6" r="1.8"/><circle cx="327.7" cy="329.4" r="1.8"/><circle cx="301.8" cy="329.7" r="1.8"/><circle cx="276.5" cy="331.0" r="1.8"/><circle cx="307.6" cy="336.8" r="1.8"/><circle cx="304.7" cy="336.1" r="1.8"/><circle cx="319.2" cy="331.1" r="1.8"/><circle cx="335.9" cy="318.8" r="1.8"/><circle cx="275.2" cy="330.5" r="1.8"/><circle cx="274.0" cy="321.0" r="1.8"/><circle cx="255.1" cy="327.2" r="1.8"/><circle cx="281.4" cy="339.6" r="1.8"/><circle cx="325.2" cy="333.4" r="1.8"/><circle cx="288.1" cy="329.8" r="1.8"/><circle cx="302.8" cy="337.9" r="1.8"/><circle cx="258.5" cy="337.5" r="1.8"/><circle cx="299.0" cy="327.8" r="1.8"/><circle cx="313.3" cy="322.7" r="1.8"/><circle cx="343.1" cy="322.1" r="1.8"/><circle cx="289.6" cy="333.5" r="1.8"/><circle cx="272.0" cy="336.7" r="1.8"/><circle cx="347.2" cy="333.0" r="1.8"/><circle cx="317.1" cy="338.3" r="1.8"/><circle cx="258.6" cy="337.6" r="1.8"/><circle cx="280.3" cy="322.0" r="1.8"/><circle cx="286.6" cy="335.7" r="1.8"/><circle cx="326.9" cy="323.1" r="1.8"/><circle cx="247.7" cy="345.7" r="1.8"/><circle cx="330.9" cy="324.9" r="1.8"/><circle cx="266.0" cy="338.7" r="1.8"/><circle cx="284.6" cy="333.1" r="1.8"/><circle cx="313.4" cy="331.1" r="1.8"/><circle cx="262.1" cy="337.5" r="1.8"/><circle cx="328.2" cy="326.5" r="1.8"/><circle cx="284.4" cy="332.9" r="1.8"/><circle cx="289.0" cy="336.1" r="1.8"/><circle cx="278.9" cy="335.8" r="1.8"/><circle cx="324.7" cy="329.1" r="1.8"/><circle cx="337.3" cy="333.9" r="1.8"/><circle cx="363.1" cy="333.1" r="1.8"/><circle cx="276.7" cy="338.7" r="1.8"/><circle cx="312.4" cy="332.3" r="1.8"/><circle cx="292.5" cy="338.6" r="1.8"/><circle cx="275.5" cy="333.2" r="1.8"/><circle cx="245.5" cy="322.9" r="1.8"/><circle cx="310.3" cy="337.2" r="1.8"/><circle cx="352.8" cy="328.6" r="1.8"/><circle cx="275.9" cy="329.9" r="1.8"/><circle cx="267.5" cy="328.7" r="1.8"/><circle cx="283.3" cy="333.9" r="1.8"/><circle cx="298.0" cy="345.2" r="1.8"/><circle cx="275.7" cy="323.2" r="1.8"/><circle cx="278.4" cy="332.1" r="1.8"/><circle cx="246.3" cy="340.7" r="1.8"/><circle cx="294.7" cy="330.9" r="1.8"/><circle cx="317.0" cy="343.5" r="1.8"/><circle cx="338.7" cy="333.0" r="1.8"/><circle cx="273.9" cy="333.8" r="1.8"/><circle cx="318.0" cy="333.3" r="1.8"/><circle cx="296.7" cy="334.2" r="1.8"/><circle cx="317.3" cy="333.6" r="1.8"/><circle cx="344.5" cy="333.5" r="1.8"/><circle cx="260.6" cy="337.0" r="1.8"/><circle cx="271.2" cy="341.8" r="1.8"/><circle cx="189.3" cy="349.6" r="1.8"/><circle cx="212.6" cy="347.8" r="1.8"/><circle cx="233.3" cy="326.2" r="1.8"/><circle cx="233.3" cy="345.1" r="1.8"/></g>
<path d="M280.1 352.2h5M282.6 349.7v5M354.4 324.9h5M356.9 322.4v5M337.4 341.2h5M339.9 338.7v5M345.7 332.7h5M348.2 330.2v5M372.2 323.2h5M374.7 320.7v5M378.5 340.1h5M381.0 337.6v5M259.4 354.2h5M261.9 351.7v5M332.7 330.2h5M335.2 327.7v5M313.7 337.2h5M316.2 334.7v5M315.2 336.1h5M317.7 333.6v5M346.3 334.0h5M348.8 331.5v5M331.4 334.0h5M333.9 331.5v5M344.3 347.6h5M346.8 345.1v5M318.8 340.5h5M321.3 338.0v5M265.8 353.1h5M268.3 350.6v5M356.7 348.3h5M359.2 345.8v5M320.4 337.6h5M322.9 335.1v5M344.5 334.8h5M347.0 332.3v5M323.5 339.0h5M326.0 336.5v5M315.4 340.6h5M317.9 338.1v5M340.1 337.1h5M342.6 334.6v5M355.7 340.3h5M358.2 337.8v5M324.3 335.8h5M326.8 333.3v5M281.9 347.2h5M284.4 344.7v5M338.1 336.0h5M340.6 333.5v5M328.2 343.0h5M330.7 340.5v5M320.8 345.5h5M323.3 343.0v5M334.0 331.2h5M336.5 328.7v5M343.9 340.0h5M346.4 337.5v5M269.2 353.8h5M271.7 351.3v5M337.0 326.9h5M339.5 324.4v5M257.4 356.1h5M259.9 353.6v5M335.1 338.3h5M337.6 335.8v5M332.4 340.4h5M334.9 337.9v5M301.1 351.3h5M303.6 348.8v5M313.3 349.8h5M315.8 347.3v5M328.1 348.7h5M330.6 346.2v5M307.3 345.7h5M309.8 343.2v5M347.6 340.3h5M350.1 337.8v5M313.4 353.8h5M315.9 351.3v5M283.4 346.1h5M285.9 343.6v5M360.4 329.3h5M362.9 326.8v5M345.9 334.7h5M348.4 332.2v5M303.3 343.0h5M305.8 340.5v5M328.4 348.6h5M330.9 346.1v5M332.5 323.9h5M335.0 321.4v5M352.6 326.3h5M355.1 323.8v5M320.5 346.3h5M323.0 343.8v5M347.4 335.3h5M349.9 332.8v5M323.2 346.8h5M325.7 344.3v5M339.5 339.0h5M342.0 336.5v5M361.3 338.8h5M363.8 336.3v5M312.4 341.3h5M314.9 338.8v5M259.6 348.3h5M262.1 345.8v5M319.8 340.5h5M322.3 338.0v5M304.3 351.0h5M306.8 348.5v5M361.7 340.1h5M364.2 337.6v5M281.0 340.6h5M283.5 338.1v5M266.6 349.7h5M269.1 347.2v5M300.7 345.8h5M303.2 343.3v5M340.5 328.5h5M343.0 326.0v5M290.7 351.1h5M293.2 348.6v5M343.9 336.4h5M346.4 333.9v5M364.1 334.2h5M366.6 331.7v5M349.4 340.7h5M351.9 338.2v5M371.7 338.1h5M374.2 335.6v5M353.8 344.5h5M356.3 342.0v5M368.5 332.6h5M371.0 330.1v5M295.6 342.8h5M298.1 340.3v5M343.9 334.3h5M346.4 331.8v5M334.6 338.7h5M337.1 336.2v5M319.3 340.9h5M321.8 338.4v5M309.1 347.4h5M311.6 344.9v5M366.0 323.9h5M368.5 321.4v5M304.2 344.7h5M306.7 342.2v5M352.3 332.0h5M354.8 329.5v5M326.7 338.1h5M329.2 335.6v5M272.5 372.0h5M275.0 369.5v5M229.4 363.0h5M231.9 360.5v5" stroke="#151515" stroke-width="1.05" fill="none"/>
<g fill="none" stroke="#acacac" stroke-width="1.05"><circle cx="317.3" cy="331.9" r="1.8"/><circle cx="306.3" cy="331.1" r="1.8"/><circle cx="268.7" cy="330.9" r="1.8"/><circle cx="296.5" cy="330.2" r="1.8"/><circle cx="326.6" cy="335.9" r="1.8"/><circle cx="317.4" cy="327.9" r="1.8"/><circle cx="286.3" cy="334.3" r="1.8"/><circle cx="286.5" cy="334.3" r="1.8"/><circle cx="270.7" cy="338.4" r="1.8"/><circle cx="258.9" cy="333.2" r="1.8"/><circle cx="309.7" cy="330.8" r="1.8"/><circle cx="259.4" cy="325.9" r="1.8"/><circle cx="343.5" cy="327.2" r="1.8"/><circle cx="288.8" cy="329.7" r="1.8"/><circle cx="288.4" cy="336.9" r="1.8"/><circle cx="304.1" cy="322.8" r="1.8"/><circle cx="310.4" cy="340.2" r="1.8"/><circle cx="293.9" cy="337.7" r="1.8"/><circle cx="341.0" cy="319.5" r="1.8"/><circle cx="353.2" cy="329.3" r="1.8"/><circle cx="326.4" cy="332.3" r="1.8"/><circle cx="324.2" cy="332.0" r="1.8"/><circle cx="288.0" cy="343.5" r="1.8"/><circle cx="301.1" cy="321.0" r="1.8"/><circle cx="259.3" cy="340.4" r="1.8"/><circle cx="326.0" cy="331.9" r="1.8"/><circle cx="296.2" cy="324.2" r="1.8"/><circle cx="292.8" cy="345.5" r="1.8"/><circle cx="304.6" cy="326.2" r="1.8"/><circle cx="263.1" cy="335.1" r="1.8"/><circle cx="297.5" cy="323.5" r="1.8"/><circle cx="256.7" cy="322.2" r="1.8"/><circle cx="308.9" cy="341.2" r="1.8"/><circle cx="318.3" cy="330.6" r="1.8"/><circle cx="374.8" cy="318.8" r="1.8"/><circle cx="329.6" cy="318.5" r="1.8"/><circle cx="303.0" cy="323.0" r="1.8"/><circle cx="264.8" cy="333.5" r="1.8"/><circle cx="314.3" cy="333.7" r="1.8"/><circle cx="290.0" cy="336.0" r="1.8"/><circle cx="283.7" cy="330.5" r="1.8"/><circle cx="297.5" cy="331.6" r="1.8"/><circle cx="319.2" cy="343.7" r="1.8"/><circle cx="321.4" cy="326.2" r="1.8"/><circle cx="290.1" cy="340.5" r="1.8"/><circle cx="348.2" cy="340.9" r="1.8"/><circle cx="247.4" cy="342.1" r="1.8"/><circle cx="288.1" cy="329.4" r="1.8"/><circle cx="351.0" cy="333.1" r="1.8"/><circle cx="262.0" cy="327.5" r="1.8"/><circle cx="339.1" cy="331.7" r="1.8"/><circle cx="263.3" cy="334.2" r="1.8"/><circle cx="315.7" cy="335.6" r="1.8"/><circle cx="326.6" cy="321.2" r="1.8"/><circle cx="295.8" cy="337.6" r="1.8"/><circle cx="274.2" cy="337.2" r="1.8"/><circle cx="364.5" cy="329.0" r="1.8"/><circle cx="311.8" cy="334.4" r="1.8"/><circle cx="308.9" cy="329.8" r="1.8"/><circle cx="258.7" cy="336.6" r="1.8"/><circle cx="298.8" cy="319.3" r="1.8"/><circle cx="277.7" cy="340.0" r="1.8"/><circle cx="311.7" cy="329.0" r="1.8"/><circle cx="272.5" cy="334.2" r="1.8"/><circle cx="314.4" cy="335.9" r="1.8"/><circle cx="271.1" cy="330.3" r="1.8"/><circle cx="308.1" cy="332.9" r="1.8"/><circle cx="309.8" cy="332.4" r="1.8"/><circle cx="296.9" cy="326.7" r="1.8"/><circle cx="254.5" cy="330.5" r="1.8"/><circle cx="299.2" cy="336.5" r="1.8"/><circle cx="320.0" cy="327.0" r="1.8"/><circle cx="320.2" cy="324.8" r="1.8"/><circle cx="293.5" cy="329.8" r="1.8"/><circle cx="307.2" cy="335.8" r="1.8"/><circle cx="194.7" cy="354.0" r="1.8"/><circle cx="213.5" cy="337.9" r="1.8"/><circle cx="234.2" cy="333.4" r="1.8"/><circle cx="231.9" cy="346.9" r="1.8"/></g>
<path d="M367.1 322.9h5M369.6 320.4v5M265.7 352.4h5M268.2 349.9v5M361.1 338.0h5M363.6 335.5v5M320.1 341.2h5M322.6 338.7v5M378.5 335.3h5M381.0 332.8v5M337.2 343.2h5M339.7 340.7v5M353.6 343.0h5M356.1 340.5v5M281.6 350.6h5M284.1 348.1v5M263.1 354.9h5M265.6 352.4v5M270.9 349.8h5M273.4 347.3v5M291.5 351.9h5M294.0 349.4v5M282.6 339.4h5M285.1 336.9v5M346.2 347.8h5M348.7 345.3v5M324.1 346.8h5M326.6 344.3v5M332.8 339.9h5M335.3 337.4v5M322.1 341.8h5M324.6 339.3v5M338.2 344.6h5M340.7 342.1v5M308.4 335.7h5M310.9 333.2v5M295.2 340.2h5M297.7 337.7v5M344.7 339.1h5M347.2 336.6v5M350.8 328.5h5M353.3 326.0v5M347.0 344.8h5M349.5 342.3v5M278.9 345.9h5M281.4 343.4v5M289.3 344.8h5M291.8 342.3v5M328.2 345.9h5M330.7 343.4v5M327.0 342.5h5M329.5 340.0v5M343.5 350.8h5M346.0 348.3v5M249.1 361.9h5M251.6 359.4v5M339.9 349.5h5M342.4 347.0v5M333.6 338.7h5M336.1 336.2v5M372.8 336.7h5M375.3 334.2v5M249.8 348.5h5M252.3 346.0v5M342.9 344.0h5M345.4 341.5v5M313.4 336.1h5M315.9 333.6v5M311.2 338.8h5M313.7 336.3v5M283.9 343.8h5M286.4 341.3v5M345.0 323.3h5M347.5 320.8v5M323.0 345.6h5M325.5 343.1v5M354.5 337.4h5M357.0 334.9v5M320.9 346.0h5M323.4 343.5v5M325.5 337.4h5M328.0 334.9v5M354.3 332.3h5M356.8 329.8v5M314.4 344.6h5M316.9 342.1v5M334.4 337.5h5M336.9 335.0v5M317.2 344.8h5M319.7 342.3v5M275.8 354.2h5M278.3 351.7v5M349.3 325.6h5M351.8 323.1v5M338.1 351.8h5M340.6 349.3v5M313.0 332.6h5M315.5 330.1v5M360.9 337.9h5M363.4 335.4v5M278.3 338.4h5M280.8 335.9v5M338.7 337.6h5M341.2 335.1v5M304.2 344.1h5M306.7 341.6v5M338.4 340.2h5M340.9 337.7v5M307.3 347.0h5M309.8 344.5v5M360.8 322.3h5M363.3 319.8v5M297.7 351.2h5M300.2 348.7v5M347.6 336.7h5M350.1 334.2v5M250.9 359.1h5M253.4 356.6v5M315.5 346.9h5M318.0 344.4v5M354.0 328.3h5M356.5 325.8v5M311.0 333.6h5M313.5 331.1v5M341.8 334.4h5M344.3 331.9v5M338.7 329.5h5M341.2 327.0v5M243.2 367.5h5M245.7 365.0v5M345.2 332.7h5M347.7 330.2v5M323.1 337.6h5M325.6 335.1v5M348.3 336.5h5M350.8 334.0v5M331.8 339.5h5M334.3 337.0v5M366.1 332.6h5M368.6 330.1v5M279.1 344.6h5M281.6 342.1v5M299.0 340.7h5M301.5 338.2v5M320.7 350.5h5M323.2 348.0v5M339.2 336.6h5M341.7 334.1v5M325.0 338.8h5M327.5 336.3v5M329.4 336.3h5M331.9 333.8v5M304.8 341.7h5M307.3 339.2v5M238.0 347.4h5M240.5 344.9v5M235.3 361.2h5M237.8 358.7v5" stroke="#151515" stroke-width="1.05" fill="none"/>
<g fill="none" stroke="#acacac" stroke-width="1.05"><circle cx="293.0" cy="339.1" r="1.8"/><circle cx="279.6" cy="337.5" r="1.8"/><circle cx="313.4" cy="328.8" r="1.8"/><circle cx="317.5" cy="334.7" r="1.8"/><circle cx="269.7" cy="335.2" r="1.8"/><circle cx="265.1" cy="327.8" r="1.8"/><circle cx="291.1" cy="319.9" r="1.8"/><circle cx="254.2" cy="334.0" r="1.8"/><circle cx="246.6" cy="330.5" r="1.8"/><circle cx="244.4" cy="331.3" r="1.8"/><circle cx="281.1" cy="338.2" r="1.8"/><circle cx="320.5" cy="330.8" r="1.8"/><circle cx="327.2" cy="326.1" r="1.8"/><circle cx="298.9" cy="338.2" r="1.8"/><circle cx="262.4" cy="342.1" r="1.8"/><circle cx="274.9" cy="341.5" r="1.8"/><circle cx="292.6" cy="331.4" r="1.8"/><circle cx="270.8" cy="340.2" r="1.8"/><circle cx="304.3" cy="329.3" r="1.8"/><circle cx="282.6" cy="337.3" r="1.8"/><circle cx="254.8" cy="322.4" r="1.8"/><circle cx="317.1" cy="334.1" r="1.8"/><circle cx="297.8" cy="330.2" r="1.8"/><circle cx="282.8" cy="337.1" r="1.8"/><circle cx="325.5" cy="317.7" r="1.8"/><circle cx="261.7" cy="334.8" r="1.8"/><circle cx="304.9" cy="323.8" r="1.8"/><circle cx="250.8" cy="328.9" r="1.8"/><circle cx="292.6" cy="327.9" r="1.8"/><circle cx="319.4" cy="335.3" r="1.8"/><circle cx="343.2" cy="334.7" r="1.8"/><circle cx="284.1" cy="326.0" r="1.8"/><circle cx="356.9" cy="326.3" r="1.8"/><circle cx="300.5" cy="327.3" r="1.8"/><circle cx="288.4" cy="338.2" r="1.8"/><circle cx="269.2" cy="325.1" r="1.8"/><circle cx="312.1" cy="327.7" r="1.8"/><circle cx="303.7" cy="331.1" r="1.8"/><circle cx="273.4" cy="338.7" r="1.8"/><circle cx="270.3" cy="334.7" r="1.8"/><circle cx="328.9" cy="328.5" r="1.8"/><circle cx="346.8" cy="327.9" r="1.8"/><circle cx="319.5" cy="328.0" r="1.8"/><circle cx="328.4" cy="320.2" r="1.8"/><circle cx="251.3" cy="333.3" r="1.8"/><circle cx="336.3" cy="326.1" r="1.8"/><circle cx="290.8" cy="330.6" r="1.8"/><circle cx="254.7" cy="334.5" r="1.8"/><circle cx="317.0" cy="331.8" r="1.8"/><circle cx="254.5" cy="348.1" r="1.8"/><circle cx="317.0" cy="331.8" r="1.8"/><circle cx="340.5" cy="330.7" r="1.8"/><circle cx="317.7" cy="332.2" r="1.8"/><circle cx="327.2" cy="324.1" r="1.8"/><circle cx="304.7" cy="331.3" r="1.8"/><circle cx="300.7" cy="327.9" r="1.8"/><circle cx="274.3" cy="330.4" r="1.8"/><circle cx="292.2" cy="343.0" r="1.8"/><circle cx="337.4" cy="331.8" r="1.8"/><circle cx="265.8" cy="323.6" r="1.8"/><circle cx="283.9" cy="329.7" r="1.8"/><circle cx="303.5" cy="327.3" r="1.8"/><circle cx="269.3" cy="333.8" r="1.8"/><circle cx="251.5" cy="332.6" r="1.8"/><circle cx="273.1" cy="329.2" r="1.8"/><circle cx="315.5" cy="332.5" r="1.8"/><circle cx="293.1" cy="342.4" r="1.8"/><circle cx="255.0" cy="342.4" r="1.8"/><circle cx="250.7" cy="342.0" r="1.8"/><circle cx="291.6" cy="328.3" r="1.8"/><circle cx="279.0" cy="327.4" r="1.8"/><circle cx="271.2" cy="344.6" r="1.8"/><circle cx="339.8" cy="327.4" r="1.8"/><circle cx="262.8" cy="335.4" r="1.8"/><circle cx="291.3" cy="336.1" r="1.8"/><circle cx="192.9" cy="340.2" r="1.8"/><circle cx="219.8" cy="328.9" r="1.8"/><circle cx="236.0" cy="329.8" r="1.8"/><circle cx="238.7" cy="338.8" r="1.8"/></g>
<path d="M297.6 350.4h5M300.1 347.9v5M330.7 348.3h5M333.2 345.8v5M301.0 332.0h5M303.5 329.5v5M340.1 338.0h5M342.6 335.5v5M355.8 341.5h5M358.3 339.0v5M303.3 340.4h5M305.8 337.9v5M331.6 324.0h5M334.1 321.5v5M325.4 334.0h5M327.9 331.5v5M317.8 343.0h5M320.3 340.5v5M369.3 325.6h5M371.8 323.1v5M284.0 346.4h5M286.5 343.9v5M260.9 352.9h5M263.4 350.4v5M335.1 339.4h5M337.6 336.9v5M247.2 352.1h5M249.7 349.6v5M358.3 337.1h5M360.8 334.6v5M334.2 332.8h5M336.7 330.3v5M333.7 335.9h5M336.2 333.4v5M355.0 333.2h5M357.5 330.7v5M263.9 350.9h5M266.4 348.4v5M323.8 349.6h5M326.3 347.1v5M348.1 329.9h5M350.6 327.4v5M282.2 338.9h5M284.7 336.4v5M303.0 345.2h5M305.5 342.7v5M302.8 345.6h5M305.3 343.1v5M343.5 333.8h5M346.0 331.3v5M264.3 351.6h5M266.8 349.1v5M259.6 351.7h5M262.1 349.2v5M355.2 326.7h5M357.7 324.2v5M283.8 357.6h5M286.3 355.1v5M328.8 332.4h5M331.3 329.9v5M315.2 343.4h5M317.7 340.9v5M306.0 349.4h5M308.5 346.9v5M357.8 338.1h5M360.3 335.6v5M282.8 344.8h5M285.3 342.3v5M358.7 331.9h5M361.2 329.4v5M377.1 330.1h5M379.6 327.6v5M314.4 343.8h5M316.9 341.3v5M316.4 336.8h5M318.9 334.3v5M311.2 346.8h5M313.7 344.3v5M319.8 335.5h5M322.3 333.0v5M308.4 351.8h5M310.9 349.3v5M325.7 336.6h5M328.2 334.1v5M328.6 345.8h5M331.1 343.3v5M344.4 346.4h5M346.9 343.9v5M303.4 356.1h5M305.9 353.6v5M314.9 336.1h5M317.4 333.6v5M321.4 350.3h5M323.9 347.8v5M342.4 334.5h5M344.9 332.0v5M299.3 340.3h5M301.8 337.8v5M353.9 323.2h5M356.4 320.7v5M247.4 353.0h5M249.9 350.5v5M329.7 343.9h5M332.2 341.4v5M305.9 344.5h5M308.4 342.0v5M365.5 336.7h5M368.0 334.2v5M257.9 352.0h5M260.4 349.5v5M304.3 340.6h5M306.8 338.1v5M303.7 339.9h5M306.2 337.4v5M353.3 337.0h5M355.8 334.5v5M377.6 331.3h5M380.1 328.8v5M251.1 351.4h5M253.6 348.9v5M315.7 339.7h5M318.2 337.2v5M356.0 338.1h5M358.5 335.6v5M324.1 342.3h5M326.6 339.8v5M276.0 357.7h5M278.5 355.2v5M312.3 341.7h5M314.8 339.2v5M318.8 338.0h5M321.3 335.5v5M290.7 350.7h5M293.2 348.2v5M309.0 344.3h5M311.5 341.8v5M276.6 351.9h5M279.1 349.4v5M327.1 342.6h5M329.6 340.1v5M312.0 339.7h5M314.5 337.2v5M334.4 338.3h5M336.9 335.8v5M366.5 336.9h5M369.0 334.4v5M349.6 329.5h5M352.1 327.0v5M302.4 343.1h5M304.9 340.6v5M290.5 339.3h5M293.0 336.8v5M338.2 327.5h5M340.7 325.0v5M231.7 353.1h5M234.2 350.6v5M240.7 358.5h5M243.2 356.0v5" stroke="#151515" stroke-width="1.05" fill="none"/>
<path d="M65.9 348.7L443.1 323.3" stroke="#222" stroke-width="1.25" fill="none"/>
<path d="M65.9 389.3L443.1 317.9" stroke="#222" stroke-width="1.5" stroke-dasharray="6.3 5.15" fill="none"/>
<path d="M80.3 350.1H76.3V398.0H80.3" stroke="#222" stroke-width="1.2" fill="none"/>
<path d="M80.3 377.4H83.4" stroke="#222" stroke-width="1.2" fill="none"/>
<path d="M83.4 377.4V395.0" stroke="#222" stroke-width="1.2" stroke-dasharray="6.6 4.4 7" fill="none"/>
<path d="M83.4 395.0H80.3" stroke="#222" stroke-width="1.2" fill="none"/>
<rect x="354.9" y="369.6" width="88.2" height="55.6" fill="#fff" stroke="#222" stroke-width="1.3"/>
<circle cx="372" cy="381" r="1.7" fill="none" stroke="#acacac" stroke-width="1"/>
<path d="M369.8 392.3h4.4M372 390.1v4.4" stroke="#151515" stroke-width="1.05"/>
<path d="M363 402.9H381.2" stroke="#222" stroke-width="1.3"/>
<path d="M363 414.5H381.2" stroke="#222" stroke-width="1.3" stroke-dasharray="7.4 3.4"/>
<text x="389" y="383.6" font-size="9.3" fill="#111">bright</text>
<text x="389" y="394.9" font-size="9.3" fill="#111">dark</text>
<text x="389" y="405.6" font-size="9.3" fill="#111">bright_trend</text>
<text x="389" y="417.2" font-size="9.3" fill="#111">dark_trend</text>
<rect x="65.9" y="300.8" width="377.2" height="124.4" fill="none" stroke="#222" stroke-width="1.3"/>
<path d="M63.900000000000006 311.5H65.9" stroke="#222" stroke-width="1.2"/>
<text transform="translate(61 315.9) scale(1.01 1)" font-size="9.45" text-anchor="end" fill="#262626">0.22</text>
<path d="M63.900000000000006 337.1H65.9" stroke="#222" stroke-width="1.2"/>
<text transform="translate(61 341.5) scale(1.01 1)" font-size="9.45" text-anchor="end" fill="#262626">0.18</text>
<path d="M63.900000000000006 362.7H65.9" stroke="#222" stroke-width="1.2"/>
<text transform="translate(61 367.1) scale(1.01 1)" font-size="9.45" text-anchor="end" fill="#262626">0.14</text>
<path d="M63.900000000000006 388.3H65.9" stroke="#222" stroke-width="1.2"/>
<text transform="translate(61 392.7) scale(1.01 1)" font-size="9.45" text-anchor="end" fill="#262626">0.10</text>
<path d="M63.900000000000006 413.9H65.9" stroke="#222" stroke-width="1.2"/>
<text transform="translate(61 418.3) scale(1.01 1)" font-size="9.45" text-anchor="end" fill="#262626">0.06</text>
<text transform="translate(29 363.4) rotate(-90)" font-size="14" text-anchor="middle" fill="#222">WSA</text>
<text transform="translate(31.7 312.3) scale(1.12 1)" font-size="16.8" text-anchor="end" fill="#111">SE</text>
<path d="M80.3 425.20000000000005v2.2" stroke="#222" stroke-width="1.2"/>
<text transform="translate(80.3 440.3) scale(1.01 1)" font-size="9.45" text-anchor="middle" fill="#262626">0.0</text>
<path d="M150.0 425.20000000000005v2.2" stroke="#222" stroke-width="1.2"/>
<text transform="translate(150.0 440.3) scale(1.01 1)" font-size="9.45" text-anchor="middle" fill="#262626">0.2</text>
<path d="M219.7 425.20000000000005v2.2" stroke="#222" stroke-width="1.2"/>
<text transform="translate(219.7 440.3) scale(1.01 1)" font-size="9.45" text-anchor="middle" fill="#262626">0.4</text>
<path d="M289.5 425.20000000000005v2.2" stroke="#222" stroke-width="1.2"/>
<text transform="translate(289.5 440.3) scale(1.01 1)" font-size="9.45" text-anchor="middle" fill="#262626">0.6</text>
<path d="M359.2 425.20000000000005v2.2" stroke="#222" stroke-width="1.2"/>
<text transform="translate(359.2 440.3) scale(1.01 1)" font-size="9.45" text-anchor="middle" fill="#262626">0.8</text>
<path d="M428.9 425.20000000000005v2.2" stroke="#222" stroke-width="1.2"/>
<text transform="translate(428.9 440.3) scale(1.01 1)" font-size="9.45" text-anchor="middle" fill="#262626">1.0</text>
<text transform="translate(254.6 447.4) scale(1.06 1)" font-size="15.7" text-anchor="middle" fill="#222">NDVI</text>
</svg>
</body></html>
